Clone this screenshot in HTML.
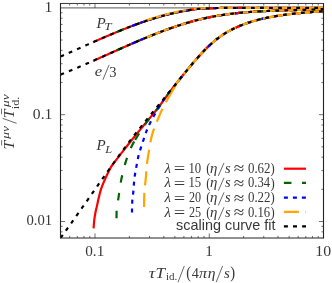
<!DOCTYPE html>
<html><head><meta charset="utf-8">
<style>
html,body{margin:0;padding:0;background:#fff;}
body{width:332px;height:283px;overflow:hidden;}
svg{display:block;}
text{fill:#383838;}
</style></head><body>
<svg width="332" height="283" viewBox="0 0 332 283">
<rect x="0" y="0" width="332" height="283" fill="#fff"/>
<path d="M60.5 7.86 H323.5" stroke="#777" stroke-width="1.15"/>
<clipPath id="cp"><rect x="60.5" y="3.47" width="263.0" height="234.53"/></clipPath>
<g clip-path="url(#cp)" stroke-linecap="butt" stroke-linejoin="round">
<path d="M93.10 42.17 L94.10 41.73 L95.10 41.30 L96.10 40.86 L97.10 40.42 L98.10 39.98 L99.10 39.55 L100.10 39.11 L101.10 38.67 L102.10 38.24 L103.10 37.81 L104.10 37.37 L105.10 36.94 L106.10 36.51 L107.10 36.08 L108.10 35.66 L109.10 35.23 L110.10 34.81 L111.10 34.39 L112.10 33.97 L113.10 33.56 L114.10 33.14 L115.10 32.72 L116.10 32.31 L117.10 31.90 L118.10 31.49 L119.10 31.08 L120.10 30.67 L121.10 30.27 L122.10 29.86 L123.10 29.46 L124.10 29.06 L125.10 28.66 L126.10 28.27 L127.10 27.87 L128.10 27.48 L129.10 27.10 L130.10 26.71 L131.10 26.33 L132.10 25.95 L133.10 25.57 L134.10 25.19 L135.10 24.82 L136.10 24.45 L137.10 24.08 L138.10 23.72 L139.10 23.36 L140.10 23.00 L141.10 22.65 L142.10 22.30 L143.10 21.95 L144.10 21.61 L145.10 21.27 L146.10 20.93 L147.10 20.60 L148.10 20.26 L149.10 19.93 L150.10 19.60 L151.10 19.28 L152.10 18.96 L153.10 18.65 L154.10 18.33 L155.10 18.03 L156.10 17.73 L157.10 17.43 L158.10 17.13 L159.10 16.84 L160.10 16.56 L161.10 16.27 L162.10 16.00 L163.10 15.72 L164.10 15.45 L165.10 15.18 L166.10 14.92 L167.10 14.66 L168.10 14.40 L169.10 14.15 L170.10 13.90 L171.10 13.66 L172.10 13.42 L173.10 13.19 L174.10 12.96 L175.10 12.74 L176.10 12.53 L177.10 12.32 L178.10 12.11 L179.10 11.91 L180.10 11.71 L181.10 11.51 L182.10 11.31 L183.10 11.13 L184.10 10.94 L185.10 10.77 L186.10 10.60 L187.10 10.43 L188.10 10.28 L189.10 10.12 L190.10 9.96 L191.10 9.80 L192.10 9.65 L193.10 9.50 L194.10 9.36 L195.10 9.23 L196.10 9.10 L197.10 8.99 L198.10 8.89 L199.10 8.80 L200.10 8.73 L201.10 8.66 L202.10 8.61 L203.10 8.55 L204.10 8.50 L205.10 8.46 L206.10 8.41 L207.10 8.37 L208.10 8.33 L209.10 8.30 L210.10 8.26 L211.10 8.22 L212.10 8.18 L213.10 8.14 L214.10 8.11 L215.10 8.08 L216.10 8.05 L217.10 8.02 L218.10 8.00 L219.10 7.98 L220.10 7.96 L221.10 7.95 L222.10 7.94 L223.10 7.92 L224.10 7.91 L225.10 7.90 L226.10 7.88 L227.10 7.87 L228.10 7.85 L229.10 7.84 L230.10 7.82 L231.10 7.81 L232.10 7.80 L233.10 7.80 L234.10 7.80 L235.10 7.80 L236.10 7.80 L237.10 7.80 L238.10 7.80 L239.10 7.80 L240.10 7.80 L241.10 7.80 L242.10 7.80 L243.10 7.80 L244.10 7.80 L245.10 7.80 L246.10 7.80 L247.10 7.80 L248.10 7.80 L249.10 7.80 L250.10 7.80 L251.10 7.80 L252.10 7.80 L253.10 7.80 L254.10 7.80 L255.10 7.80 L256.10 7.80 L257.10 7.80 L258.10 7.80 L259.10 7.80 L260.10 7.80 L261.10 7.80 L262.10 7.80 L263.10 7.80 L264.10 7.80 L265.10 7.80 L266.10 7.81 L267.10 7.81 L268.10 7.82 L269.10 7.82 L270.10 7.83 L271.10 7.83 L272.10 7.84 L273.10 7.84 L274.10 7.85 L275.10 7.85 L276.10 7.85 L277.10 7.86 L278.10 7.86 L279.10 7.87 L280.10 7.87 L281.10 7.88 L282.10 7.88 L283.10 7.88 L284.10 7.89 L285.10 7.89 L286.10 7.89 L287.10 7.90 L288.10 7.90 L289.10 7.90 L290.10 7.90 L291.10 7.90 L292.10 7.90 L293.10 7.90 L294.10 7.90 L295.10 7.90 L296.10 7.90 L297.10 7.90 L298.10 7.90 L299.10 7.90 L300.10 7.90 L301.10 7.90 L302.10 7.90 L303.10 7.90 L304.10 7.90 L305.10 7.90 L306.10 7.90 L307.10 7.90 L308.10 7.90 L309.10 7.90 L310.10 7.90 L311.10 7.90 L312.10 7.90 L313.10 7.90 L314.10 7.90 L315.10 7.90 L316.10 7.90 L317.10 7.90 L318.10 7.90 L319.10 7.90 L320.10 7.90 L321.10 7.90 L322.10 7.90 L323.10 7.90 L323.50 7.90" stroke="#ff0000" stroke-width="2.20" fill="none"/>
<path d="M93.10 60.89 L94.10 60.44 L95.10 60.00 L96.10 59.56 L97.10 59.11 L98.10 58.67 L99.10 58.22 L100.10 57.78 L101.10 57.33 L102.10 56.89 L103.10 56.44 L104.10 55.99 L105.10 55.55 L106.10 55.10 L107.10 54.65 L108.10 54.20 L109.10 53.76 L110.10 53.31 L111.10 52.86 L112.10 52.42 L113.10 51.97 L114.10 51.52 L115.10 51.08 L116.10 50.63 L117.10 50.19 L118.10 49.74 L119.10 49.30 L120.10 48.85 L121.10 48.41 L122.10 47.97 L123.10 47.53 L124.10 47.09 L125.10 46.65 L126.10 46.21 L127.10 45.77 L128.10 45.33 L129.10 44.89 L130.10 44.46 L131.10 44.02 L132.10 43.59 L133.10 43.16 L134.10 42.73 L135.10 42.30 L136.10 41.87 L137.10 41.44 L138.10 41.02 L139.10 40.59 L140.10 40.17 L141.10 39.75 L142.10 39.33 L143.10 38.91 L144.10 38.49 L145.10 38.08 L146.10 37.67 L147.10 37.25 L148.10 36.85 L149.10 36.44 L150.10 36.03 L151.10 35.63 L152.10 35.23 L153.10 34.83 L154.10 34.43 L155.10 34.04 L156.10 33.65 L157.10 33.26 L158.10 32.87 L159.10 32.48 L160.10 32.10 L161.10 31.72 L162.10 31.34 L163.10 30.97 L164.10 30.59 L165.10 30.22 L166.10 29.86 L167.10 29.49 L168.10 29.13 L169.10 28.77 L170.10 28.41 L171.10 28.06 L172.10 27.71 L173.10 27.37 L174.10 27.02 L175.10 26.68 L176.10 26.34 L177.10 26.01 L178.10 25.68 L179.10 25.35 L180.10 25.03 L181.10 24.71 L182.10 24.39 L183.10 24.08 L184.10 23.77 L185.10 23.46 L186.10 23.16 L187.10 22.86 L188.10 22.57 L189.10 22.28 L190.10 21.99 L191.10 21.71 L192.10 21.43 L193.10 21.15 L194.10 20.88 L195.10 20.62 L196.10 20.35 L197.10 20.10 L198.10 19.84 L199.10 19.59 L200.10 19.35 L201.10 19.11 L202.10 18.87 L203.10 18.64 L204.10 18.42 L205.10 18.19 L206.10 17.98 L207.10 17.76 L208.10 17.55 L209.10 17.35 L210.10 17.15 L211.10 16.95 L212.10 16.75 L213.10 16.57 L214.10 16.38 L215.10 16.20 L216.10 16.02 L217.10 15.85 L218.10 15.68 L219.10 15.51 L220.10 15.35 L221.10 15.19 L222.10 15.04 L223.10 14.88 L224.10 14.74 L225.10 14.59 L226.10 14.45 L227.10 14.31 L228.10 14.18 L229.10 14.05 L230.10 13.92 L231.10 13.80 L232.10 13.67 L233.10 13.56 L234.10 13.44 L235.10 13.33 L236.10 13.22 L237.10 13.11 L238.10 13.01 L239.10 12.91 L240.10 12.81 L241.10 12.71 L242.10 12.62 L243.10 12.53 L244.10 12.44 L245.10 12.35 L246.10 12.27 L247.10 12.19 L248.10 12.11 L249.10 12.04 L250.10 11.96 L251.10 11.89 L252.10 11.82 L253.10 11.75 L254.10 11.69 L255.10 11.62 L256.10 11.56 L257.10 11.50 L258.10 11.44 L259.10 11.38 L260.10 11.33 L261.10 11.28 L262.10 11.22 L263.10 11.17 L264.10 11.13 L265.10 11.08 L266.10 11.03 L267.10 10.99 L268.10 10.94 L269.10 10.90 L270.10 10.86 L271.10 10.82 L272.10 10.78 L273.10 10.75 L274.10 10.71 L275.10 10.67 L276.10 10.64 L277.10 10.61 L278.10 10.57 L279.10 10.54 L280.10 10.51 L281.10 10.48 L282.10 10.45 L283.10 10.42 L284.10 10.39 L285.10 10.36 L286.10 10.33 L287.10 10.30 L288.10 10.27 L289.10 10.25 L290.10 10.22 L291.10 10.19 L292.10 10.16 L293.10 10.13 L294.10 10.11 L295.10 10.08 L296.10 10.05 L297.10 10.02 L298.10 10.00 L299.10 9.97 L300.10 9.94 L301.10 9.91 L302.10 9.88 L303.10 9.85 L304.10 9.82 L305.10 9.79 L306.10 9.76 L307.10 9.72 L308.10 9.69 L309.10 9.66 L310.10 9.62 L311.10 9.59 L312.10 9.55 L313.10 9.51 L314.10 9.47 L315.10 9.43 L316.10 9.39 L317.10 9.35 L318.10 9.30 L319.10 9.26 L320.10 9.21 L321.10 9.17 L322.10 9.12 L323.10 9.07 L323.50 9.05" stroke="#ff0000" stroke-width="2.20" fill="none"/>
<path d="M93.60 228.40 L93.65 227.40 L93.71 226.40 L93.79 225.40 L93.87 224.40 L93.95 223.41 L94.05 222.41 L94.15 221.42 L94.25 220.43 L94.36 219.43 L94.49 218.44 L94.63 217.45 L94.78 216.46 L94.94 215.47 L95.11 214.49 L95.28 213.50 L95.46 212.52 L95.65 211.54 L95.86 210.56 L96.08 209.59 L96.32 208.61 L96.56 207.64 L96.78 206.67 L97.00 205.69 L97.22 204.71 L97.43 203.74 L97.64 202.76 L97.85 201.78 L98.06 200.80 L98.28 199.83 L98.50 198.85 L98.73 197.88 L98.96 196.91 L99.20 195.93 L99.44 194.96 L99.68 193.99 L99.93 193.02 L100.19 192.05 L100.46 191.09 L100.74 190.13 L101.04 189.18 L101.35 188.24 L101.68 187.30 L102.03 186.36 L102.39 185.43 L102.77 184.50 L103.15 183.57 L103.54 182.65 L103.94 181.73 L104.35 180.81 L104.75 179.89 L105.16 178.98 L105.57 178.07 L105.98 177.16 L106.39 176.25 L106.81 175.34 L107.24 174.44 L107.67 173.54 L108.11 172.64 L108.55 171.74 L109.00 170.85 L109.45 169.95 L109.91 169.06 L110.38 168.18 L110.85 167.29 L111.20 166.63 L112.20 165.27 L113.20 163.93 L114.20 162.59 L115.20 161.26 L116.20 159.95 L117.20 158.64 L118.20 157.33 L119.20 156.03 L120.20 154.73 L121.20 153.43 L122.20 152.14 L123.20 150.86 L124.20 149.58 L125.20 148.31 L126.20 147.04 L127.20 145.78 L128.20 144.52 L129.20 143.26 L130.20 142.00 L131.20 140.74 L132.20 139.49 L133.20 138.24 L134.20 137.00 L135.20 135.76 L136.20 134.52 L137.20 133.29 L138.20 132.07 L139.20 130.84 L140.20 129.62 L141.20 128.40 L142.20 127.19 L143.20 125.99 L144.20 124.79 L145.20 123.59 L146.20 122.39 L147.20 121.18 L148.20 119.98 L149.20 118.77 L150.20 117.55 L151.20 116.33 L152.20 115.11 L153.20 113.90 L154.20 112.68 L155.20 111.47 L156.20 110.26 L157.20 109.00 L158.20 107.69 L159.20 106.35 L160.20 104.98 L161.20 103.62 L162.20 102.27 L163.20 100.91 L164.20 99.53 L165.20 98.15 L166.20 96.77 L167.20 95.41 L168.20 94.07 L169.20 92.73 L170.20 91.40 L171.20 90.08 L172.20 88.76 L173.20 87.46 L174.20 86.17 L175.20 84.89 L176.20 83.62 L177.20 82.35 L178.20 81.10 L179.20 79.85 L180.20 78.61 L181.20 77.37 L182.20 76.13 L183.20 74.89 L184.20 73.65 L185.20 72.42 L186.20 71.20 L187.20 69.98 L188.20 68.77 L189.20 67.56 L190.20 66.36 L191.20 65.17 L192.20 63.98 L193.20 62.81 L194.20 61.64 L195.20 60.49 L196.20 59.34 L197.20 58.21 L198.20 57.09 L199.20 55.98 L200.20 54.88 L201.20 53.80 L202.20 52.73 L203.20 51.68 L204.20 50.64 L205.20 49.62 L206.20 48.61 L207.20 47.63 L208.20 46.65 L209.20 45.70 L210.20 44.77 L211.20 43.85 L212.20 42.96 L213.20 42.09 L214.20 41.23 L215.20 40.40 L216.20 39.59 L217.20 38.81 L218.20 38.04 L219.20 37.30 L220.20 36.58 L221.20 35.88 L222.20 35.19 L223.20 34.53 L224.20 33.89 L225.20 33.27 L226.20 32.66 L227.20 32.07 L228.20 31.50 L229.20 30.94 L230.20 30.40 L231.20 29.87 L232.20 29.36 L233.20 28.86 L234.20 28.38 L235.20 27.91 L236.20 27.45 L237.20 27.00 L238.20 26.56 L239.20 26.13 L240.20 25.72 L241.20 25.31 L242.20 24.92 L243.20 24.53 L244.20 24.16 L245.20 23.79 L246.20 23.43 L247.20 23.09 L248.20 22.75 L249.20 22.42 L250.20 22.10 L251.20 21.78 L252.20 21.48 L253.20 21.18 L254.20 20.89 L255.20 20.61 L256.20 20.33 L257.20 20.06 L258.20 19.80 L259.20 19.55 L260.20 19.30 L261.20 19.05 L262.20 18.82 L263.20 18.59 L264.20 18.36 L265.20 18.14 L266.20 17.93 L267.20 17.72 L268.20 17.51 L269.20 17.31 L270.20 17.12 L271.20 16.93 L272.20 16.75 L273.20 16.57 L274.20 16.39 L275.20 16.22 L276.20 16.05 L277.20 15.89 L278.20 15.73 L279.20 15.58 L280.20 15.42 L281.20 15.28 L282.20 15.13 L283.20 14.99 L284.20 14.86 L285.20 14.73 L286.20 14.60 L287.20 14.47 L288.20 14.35 L289.20 14.23 L290.20 14.11 L291.20 13.99 L292.20 13.88 L293.20 13.77 L294.20 13.66 L295.20 13.56 L296.20 13.45 L297.20 13.35 L298.20 13.25 L299.20 13.16 L300.20 13.06 L301.20 12.97 L302.20 12.87 L303.20 12.78 L304.20 12.69 L305.20 12.61 L306.20 12.52 L307.20 12.43 L308.20 12.35 L309.20 12.26 L310.20 12.18 L311.20 12.10 L312.20 12.01 L313.20 11.93 L314.20 11.85 L315.20 11.77 L316.20 11.69 L317.20 11.60 L318.20 11.52 L319.20 11.44 L320.20 11.36 L321.20 11.27 L322.20 11.19 L323.20 11.11 L323.50 11.08" stroke="#ff0000" stroke-width="2.20" fill="none"/>
<path d="M116.50 32.15 L117.50 31.73 L118.50 31.32 L119.50 30.92 L120.50 30.51 L121.50 30.10 L122.50 29.70 L123.50 29.30 L124.50 28.90 L125.50 28.50 L126.50 28.11 L127.50 27.72 L128.50 27.33 L129.50 26.94 L130.50 26.56 L131.50 26.18 L132.50 25.80 L133.50 25.42 L134.50 25.05 L135.50 24.67 L136.50 24.30 L137.50 23.94 L138.50 23.58 L139.50 23.22 L140.50 22.86 L141.50 22.51 L142.50 22.16 L143.50 21.82 L144.50 21.47 L145.50 21.13 L146.50 20.80 L147.50 20.46 L148.50 20.13 L149.50 19.80 L150.50 19.47 L151.50 19.15 L152.50 18.83 L153.50 18.52 L154.50 18.21 L155.50 17.91 L156.50 17.61 L157.50 17.31 L158.50 17.02 L159.50 16.73 L160.50 16.44 L161.50 16.16 L162.50 15.88 L163.50 15.61 L164.50 15.34 L165.50 15.07 L166.50 14.81 L167.50 14.55 L168.50 14.30 L169.50 14.05 L170.50 13.80 L171.50 13.56 L172.50 13.32 L173.50 13.10 L174.50 12.87 L175.50 12.66 L176.50 12.45 L177.50 12.24 L178.50 12.03 L179.50 11.83 L180.50 11.63 L181.50 11.43 L182.50 11.24 L183.50 11.05 L184.50 10.87 L185.50 10.70 L186.50 10.53 L187.50 10.37 L188.50 10.21 L189.50 10.05 L190.50 9.90 L191.50 9.74 L192.50 9.59 L193.50 9.44 L194.50 9.30 L195.50 9.17 L196.50 9.05 L197.50 8.95 L198.50 8.85 L199.50 8.77 L200.50 8.70 L201.50 8.64 L202.50 8.58 L203.50 8.53 L204.50 8.48 L205.50 8.44 L206.50 8.40 L207.50 8.36 L208.50 8.32 L209.50 8.28 L210.50 8.24 L211.50 8.20 L212.50 8.17 L213.50 8.13 L214.50 8.10 L215.50 8.06 L216.50 8.03 L217.50 8.01 L218.50 7.99 L219.50 7.97 L220.50 7.96 L221.50 7.94 L222.50 7.93 L223.50 7.92 L224.50 7.91 L225.50 7.89 L226.50 7.88 L227.50 7.86 L228.50 7.84 L229.50 7.83 L230.50 7.82 L231.50 7.81 L232.50 7.80 L233.50 7.80 L234.50 7.80 L235.50 7.80 L236.50 7.80 L237.50 7.80 L238.50 7.80 L239.50 7.80 L240.50 7.80 L241.50 7.80 L242.50 7.80 L243.50 7.80 L244.50 7.80 L245.50 7.80 L246.50 7.80 L247.50 7.80 L248.50 7.80 L249.50 7.80 L250.50 7.80 L251.50 7.80 L252.50 7.80 L253.50 7.80 L254.50 7.80 L255.50 7.80 L256.50 7.80 L257.50 7.80 L258.50 7.80 L259.50 7.80 L260.50 7.80 L261.50 7.80 L262.50 7.80 L263.50 7.80 L264.50 7.80 L265.50 7.81 L266.50 7.81 L267.50 7.81 L268.50 7.82 L269.50 7.82 L270.50 7.83 L271.50 7.83 L272.50 7.84 L273.50 7.84 L274.50 7.85 L275.50 7.85 L276.50 7.86 L277.50 7.86 L278.50 7.86 L279.50 7.87 L280.50 7.87 L281.50 7.88 L282.50 7.88 L283.50 7.89 L284.50 7.89 L285.50 7.89 L286.50 7.90 L287.50 7.90 L288.50 7.90 L289.50 7.90 L290.50 7.90 L291.50 7.90 L292.50 7.90 L293.50 7.90 L294.50 7.90 L295.50 7.90 L296.50 7.90 L297.50 7.90 L298.50 7.90 L299.50 7.90 L300.50 7.90 L301.50 7.90 L302.50 7.90 L303.50 7.90 L304.50 7.90 L305.50 7.90 L306.50 7.90 L307.50 7.90 L308.50 7.90 L309.50 7.90 L310.50 7.90 L311.50 7.90 L312.50 7.90 L313.50 7.90 L314.50 7.90 L315.50 7.90 L316.50 7.90 L317.50 7.90 L318.50 7.90 L319.50 7.90 L320.50 7.90 L321.50 7.90 L322.50 7.90 L323.50 7.90" stroke="#006400" stroke-width="2.20" fill="none" stroke-dasharray="7.5 10.5"/>
<path d="M116.50 50.45 L117.50 50.01 L118.50 49.57 L119.50 49.12 L120.50 48.68 L121.50 48.23 L122.50 47.79 L123.50 47.35 L124.50 46.91 L125.50 46.47 L126.50 46.03 L127.50 45.59 L128.50 45.16 L129.50 44.72 L130.50 44.28 L131.50 43.85 L132.50 43.42 L133.50 42.99 L134.50 42.55 L135.50 42.13 L136.50 41.70 L137.50 41.27 L138.50 40.85 L139.50 40.42 L140.50 40.00 L141.50 39.58 L142.50 39.16 L143.50 38.74 L144.50 38.33 L145.50 37.91 L146.50 37.50 L147.50 37.09 L148.50 36.68 L149.50 36.28 L150.50 35.87 L151.50 35.47 L152.50 35.07 L153.50 34.67 L154.50 34.27 L155.50 33.88 L156.50 33.49 L157.50 33.10 L158.50 32.71 L159.50 32.33 L160.50 31.95 L161.50 31.57 L162.50 31.19 L163.50 30.82 L164.50 30.44 L165.50 30.08 L166.50 29.71 L167.50 29.35 L168.50 28.99 L169.50 28.63 L170.50 28.27 L171.50 27.92 L172.50 27.57 L173.50 27.23 L174.50 26.88 L175.50 26.55 L176.50 26.21 L177.50 25.88 L178.50 25.55 L179.50 25.22 L180.50 24.90 L181.50 24.58 L182.50 24.26 L183.50 23.95 L184.50 23.64 L185.50 23.34 L186.50 23.04 L187.50 22.74 L188.50 22.45 L189.50 22.16 L190.50 21.87 L191.50 21.59 L192.50 21.32 L193.50 21.04 L194.50 20.77 L195.50 20.51 L196.50 20.25 L197.50 19.99 L198.50 19.74 L199.50 19.50 L200.50 19.25 L201.50 19.01 L202.50 18.78 L203.50 18.55 L204.50 18.33 L205.50 18.11 L206.50 17.89 L207.50 17.68 L208.50 17.47 L209.50 17.27 L210.50 17.07 L211.50 16.87 L212.50 16.68 L213.50 16.49 L214.50 16.31 L215.50 16.13 L216.50 15.95 L217.50 15.78 L218.50 15.61 L219.50 15.45 L220.50 15.29 L221.50 15.13 L222.50 14.98 L223.50 14.83 L224.50 14.68 L225.50 14.54 L226.50 14.40 L227.50 14.26 L228.50 14.13 L229.50 14.00 L230.50 13.87 L231.50 13.75 L232.50 13.63 L233.50 13.51 L234.50 13.39 L235.50 13.28 L236.50 13.17 L237.50 13.07 L238.50 12.97 L239.50 12.87 L240.50 12.77 L241.50 12.67 L242.50 12.58 L243.50 12.49 L244.50 12.41 L245.50 12.32 L246.50 12.24 L247.50 12.16 L248.50 12.08 L249.50 12.01 L250.50 11.93 L251.50 11.86 L252.50 11.79 L253.50 11.72 L254.50 11.66 L255.50 11.60 L256.50 11.54 L257.50 11.48 L258.50 11.42 L259.50 11.36 L260.50 11.31 L261.50 11.26 L262.50 11.20 L263.50 11.15 L264.50 11.11 L265.50 11.06 L266.50 11.01 L267.50 10.97 L268.50 10.93 L269.50 10.89 L270.50 10.85 L271.50 10.81 L272.50 10.77 L273.50 10.73 L274.50 10.70 L275.50 10.66 L276.50 10.63 L277.50 10.59 L278.50 10.56 L279.50 10.53 L280.50 10.50 L281.50 10.47 L282.50 10.43 L283.50 10.41 L284.50 10.38 L285.50 10.35 L286.50 10.32 L287.50 10.29 L288.50 10.26 L289.50 10.23 L290.50 10.21 L291.50 10.18 L292.50 10.15 L293.50 10.12 L294.50 10.10 L295.50 10.07 L296.50 10.04 L297.50 10.01 L298.50 9.98 L299.50 9.96 L300.50 9.93 L301.50 9.90 L302.50 9.87 L303.50 9.84 L304.50 9.81 L305.50 9.78 L306.50 9.74 L307.50 9.71 L308.50 9.68 L309.50 9.64 L310.50 9.61 L311.50 9.57 L312.50 9.53 L313.50 9.49 L314.50 9.46 L315.50 9.42 L316.50 9.37 L317.50 9.33 L318.50 9.29 L319.50 9.24 L320.50 9.19 L321.50 9.15 L322.50 9.10 L323.50 9.05" stroke="#006400" stroke-width="2.20" fill="none" stroke-dasharray="7.5 10.5"/>
<path d="M116.50 218.30 L116.50 217.30 L116.51 216.30 L116.53 215.30 L116.55 214.30 L116.57 213.30 L116.59 212.30 L116.62 211.30 L116.68 210.31 L116.76 209.31 L116.86 208.32 L116.97 207.33 L117.10 206.34 L117.25 205.35 L117.40 204.36 L117.56 203.37 L117.73 202.38 L117.89 201.39 L118.06 200.40 L118.23 199.41 L118.39 198.42 L118.54 197.43 L118.68 196.44 L118.82 195.45 L118.96 194.46 L119.10 193.47 L119.24 192.48 L119.38 191.48 L119.52 190.49 L119.67 189.50 L119.81 188.51 L119.96 187.52 L120.11 186.53 L120.26 185.54 L120.42 184.55 L120.58 183.57 L120.75 182.58 L120.92 181.60 L121.10 180.62 L121.28 179.64 L121.47 178.66 L121.66 177.68 L121.87 176.70 L122.08 175.72 L122.29 174.75 L122.52 173.77 L122.74 172.79 L122.98 171.82 L123.22 170.85 L123.47 169.88 L123.72 168.90 L123.98 167.94 L124.25 166.97 L124.52 166.00 L124.79 165.04 L125.07 164.08 L125.35 163.12 L125.64 162.17 L125.93 161.22 L126.23 160.27 L126.54 159.32 L126.85 158.37 L127.17 157.42 L127.50 156.47 L127.84 155.53 L128.19 154.59 L128.55 153.65 L128.91 152.71 L129.28 151.78 L129.66 150.85 L130.05 149.92 L130.44 149.01 L130.84 148.09 L131.25 147.18 L131.67 146.28 L132.10 145.38 L132.54 144.49 L133.01 143.61 L133.49 142.74 L133.99 141.87 L134.49 141.00 L135.01 140.14 L135.53 139.28 L136.05 138.42 L136.57 137.57 L137.09 136.71 L137.61 135.86 L138.14 135.01 L138.67 134.17 L139.21 133.32 L139.75 132.48 L140.30 131.64 L140.85 130.81 L141.40 129.97 L141.95 129.14 L142.50 128.30 L143.05 127.47 L143.60 126.63 L144.16 125.80 L144.72 124.97 L145.28 124.14 L145.84 123.32 L146.40 122.49 L146.97 121.67 L147.54 120.84 L147.80 120.46 L148.80 119.25 L149.80 118.04 L150.80 116.82 L151.80 115.60 L152.80 114.38 L153.80 113.17 L154.80 111.96 L155.80 110.74 L156.80 109.51 L157.80 108.22 L158.80 106.89 L159.80 105.53 L160.80 104.16 L161.80 102.81 L162.80 101.45 L163.80 100.08 L164.80 98.70 L165.80 97.32 L166.80 95.95 L167.80 94.60 L168.80 93.27 L169.80 91.94 L170.80 90.61 L171.80 89.29 L172.80 87.98 L173.80 86.69 L174.80 85.41 L175.80 84.13 L176.80 82.86 L177.80 81.60 L178.80 80.35 L179.80 79.11 L180.80 77.86 L181.80 76.62 L182.80 75.38 L183.80 74.15 L184.80 72.92 L185.80 71.69 L186.80 70.47 L187.80 69.25 L188.80 68.04 L189.80 66.84 L190.80 65.64 L191.80 64.45 L192.80 63.28 L193.80 62.11 L194.80 60.95 L195.80 59.80 L196.80 58.66 L197.80 57.53 L198.80 56.42 L199.80 55.32 L200.80 54.23 L201.80 53.16 L202.80 52.10 L203.80 51.05 L204.80 50.03 L205.80 49.01 L206.80 48.02 L207.80 47.04 L208.80 46.08 L209.80 45.14 L210.80 44.22 L211.80 43.31 L212.80 42.43 L213.80 41.57 L214.80 40.73 L215.80 39.91 L216.80 39.12 L217.80 38.34 L218.80 37.59 L219.80 36.86 L220.80 36.15 L221.80 35.47 L222.80 34.80 L223.80 34.15 L224.80 33.51 L225.80 32.90 L226.80 32.30 L227.80 31.72 L228.80 31.16 L229.80 30.61 L230.80 30.08 L231.80 29.56 L232.80 29.06 L233.80 28.57 L234.80 28.09 L235.80 27.63 L236.80 27.18 L237.80 26.73 L238.80 26.30 L239.80 25.88 L240.80 25.47 L241.80 25.08 L242.80 24.69 L243.80 24.31 L244.80 23.94 L245.80 23.58 L246.80 23.22 L247.80 22.88 L248.80 22.55 L249.80 22.22 L250.80 21.91 L251.80 21.60 L252.80 21.30 L253.80 21.00 L254.80 20.72 L255.80 20.44 L256.80 20.17 L257.80 19.91 L258.80 19.65 L259.80 19.40 L260.80 19.15 L261.80 18.91 L262.80 18.68 L263.80 18.45 L264.80 18.23 L265.80 18.01 L266.80 17.80 L267.80 17.59 L268.80 17.39 L269.80 17.20 L270.80 17.01 L271.80 16.82 L272.80 16.64 L273.80 16.46 L274.80 16.29 L275.80 16.12 L276.80 15.95 L277.80 15.79 L278.80 15.64 L279.80 15.48 L280.80 15.34 L281.80 15.19 L282.80 15.05 L283.80 14.91 L284.80 14.78 L285.80 14.65 L286.80 14.52 L287.80 14.39 L288.80 14.27 L289.80 14.15 L290.80 14.04 L291.80 13.92 L292.80 13.81 L293.80 13.70 L294.80 13.60 L295.80 13.49 L296.80 13.39 L297.80 13.29 L298.80 13.20 L299.80 13.10 L300.80 13.00 L301.80 12.91 L302.80 12.82 L303.80 12.73 L304.80 12.64 L305.80 12.55 L306.80 12.47 L307.80 12.38 L308.80 12.30 L309.80 12.21 L310.80 12.13 L311.80 12.05 L312.80 11.96 L313.80 11.88 L314.80 11.80 L315.80 11.72 L316.80 11.64 L317.80 11.55 L318.80 11.47 L319.80 11.39 L320.80 11.31 L321.80 11.22 L322.80 11.14 L323.50 11.08" stroke="#006400" stroke-width="2.20" fill="none" stroke-dasharray="7.5 10.5 7.5 10.5 7.5 10.5 7.5 10.5 7.5 1.8 7.5 10.5 7.5 10.5 7.5 10.5 7.5 10.5 7.5 10.5 7.5 10.5 7.5 10.5 7.5 10.5 7.5 10.5 7.5 10.5 7.5 10.5 7.5 10.5 7.5 10.5 7.5 10.5 7.5 10.5 7.5 10.5 7.5 10.5 7.5 10.5 7.5 10.5 7.5 10.5 7.5 10.5 7.5 10.5 7.5 10.5 7.5 10.5 7.5 10.5 7.5 10.5 7.5 10.5 7.5 10.5 7.5 10.5 7.5 10.5 7.5 10.5 7.5 10.5 7.5 10.5 7.5 10.5 7.5 10.5 7.5 10.5 7.5 10.5 7.5 10.5 7.5 10.5 7.5 10.5"/>
<path d="M132.00 25.99 L133.00 25.61 L134.00 25.23 L135.00 24.86 L136.00 24.49 L137.00 24.12 L138.00 23.76 L139.00 23.40 L140.00 23.04 L141.00 22.68 L142.00 22.33 L143.00 21.99 L144.00 21.65 L145.00 21.30 L146.00 20.97 L147.00 20.63 L148.00 20.30 L149.00 19.96 L150.00 19.64 L151.00 19.31 L152.00 18.99 L153.00 18.68 L154.00 18.37 L155.00 18.06 L156.00 17.76 L157.00 17.46 L158.00 17.16 L159.00 16.87 L160.00 16.59 L161.00 16.30 L162.00 16.02 L163.00 15.75 L164.00 15.47 L165.00 15.21 L166.00 14.94 L167.00 14.68 L168.00 14.42 L169.00 14.17 L170.00 13.92 L171.00 13.68 L172.00 13.44 L173.00 13.21 L174.00 12.98 L175.00 12.77 L176.00 12.55 L177.00 12.34 L178.00 12.13 L179.00 11.93 L180.00 11.73 L181.00 11.53 L182.00 11.33 L183.00 11.14 L184.00 10.96 L185.00 10.78 L186.00 10.61 L187.00 10.45 L188.00 10.29 L189.00 10.13 L190.00 9.98 L191.00 9.82 L192.00 9.66 L193.00 9.52 L194.00 9.37 L195.00 9.24 L196.00 9.11 L197.00 9.00 L198.00 8.90 L199.00 8.81 L200.00 8.74 L201.00 8.67 L202.00 8.61 L203.00 8.56 L204.00 8.51 L205.00 8.46 L206.00 8.42 L207.00 8.38 L208.00 8.34 L209.00 8.30 L210.00 8.26 L211.00 8.22 L212.00 8.19 L213.00 8.15 L214.00 8.11 L215.00 8.08 L216.00 8.05 L217.00 8.02 L218.00 8.00 L219.00 7.98 L220.00 7.97 L221.00 7.95 L222.00 7.94 L223.00 7.93 L224.00 7.91 L225.00 7.90 L226.00 7.89 L227.00 7.87 L228.00 7.85 L229.00 7.84 L230.00 7.82 L231.00 7.81 L232.00 7.80 L233.00 7.80 L234.00 7.80 L235.00 7.80 L236.00 7.80 L237.00 7.80 L238.00 7.80 L239.00 7.80 L240.00 7.80 L241.00 7.80 L242.00 7.80 L243.00 7.80 L244.00 7.80 L245.00 7.80 L246.00 7.80 L247.00 7.80 L248.00 7.80 L249.00 7.80 L250.00 7.80 L251.00 7.80 L252.00 7.80 L253.00 7.80 L254.00 7.80 L255.00 7.80 L256.00 7.80 L257.00 7.80 L258.00 7.80 L259.00 7.80 L260.00 7.80 L261.00 7.80 L262.00 7.80 L263.00 7.80 L264.00 7.80 L265.00 7.80 L266.00 7.81 L267.00 7.81 L268.00 7.82 L269.00 7.82 L270.00 7.83 L271.00 7.83 L272.00 7.84 L273.00 7.84 L274.00 7.85 L275.00 7.85 L276.00 7.85 L277.00 7.86 L278.00 7.86 L279.00 7.87 L280.00 7.87 L281.00 7.88 L282.00 7.88 L283.00 7.88 L284.00 7.89 L285.00 7.89 L286.00 7.89 L287.00 7.90 L288.00 7.90 L289.00 7.90 L290.00 7.90 L291.00 7.90 L292.00 7.90 L293.00 7.90 L294.00 7.90 L295.00 7.90 L296.00 7.90 L297.00 7.90 L298.00 7.90 L299.00 7.90 L300.00 7.90 L301.00 7.90 L302.00 7.90 L303.00 7.90 L304.00 7.90 L305.00 7.90 L306.00 7.90 L307.00 7.90 L308.00 7.90 L309.00 7.90 L310.00 7.90 L311.00 7.90 L312.00 7.90 L313.00 7.90 L314.00 7.90 L315.00 7.90 L316.00 7.90 L317.00 7.90 L318.00 7.90 L319.00 7.90 L320.00 7.90 L321.00 7.90 L322.00 7.90 L323.00 7.90 L323.50 7.90" stroke="#0000ff" stroke-width="2.20" fill="none" stroke-dasharray="4 5"/>
<path d="M132.00 43.63 L133.00 43.20 L134.00 42.77 L135.00 42.34 L136.00 41.91 L137.00 41.48 L138.00 41.06 L139.00 40.63 L140.00 40.21 L141.00 39.79 L142.00 39.37 L143.00 38.95 L144.00 38.53 L145.00 38.12 L146.00 37.71 L147.00 37.30 L148.00 36.89 L149.00 36.48 L150.00 36.07 L151.00 35.67 L152.00 35.27 L153.00 34.87 L154.00 34.47 L155.00 34.08 L156.00 33.68 L157.00 33.29 L158.00 32.91 L159.00 32.52 L160.00 32.14 L161.00 31.76 L162.00 31.38 L163.00 31.00 L164.00 30.63 L165.00 30.26 L166.00 29.89 L167.00 29.53 L168.00 29.17 L169.00 28.81 L170.00 28.45 L171.00 28.10 L172.00 27.75 L173.00 27.40 L174.00 27.06 L175.00 26.71 L176.00 26.38 L177.00 26.04 L178.00 25.71 L179.00 25.38 L180.00 25.06 L181.00 24.74 L182.00 24.42 L183.00 24.11 L184.00 23.80 L185.00 23.49 L186.00 23.19 L187.00 22.89 L188.00 22.60 L189.00 22.30 L190.00 22.02 L191.00 21.73 L192.00 21.45 L193.00 21.18 L194.00 20.91 L195.00 20.64 L196.00 20.38 L197.00 20.12 L198.00 19.87 L199.00 19.62 L200.00 19.37 L201.00 19.13 L202.00 18.90 L203.00 18.67 L204.00 18.44 L205.00 18.22 L206.00 18.00 L207.00 17.78 L208.00 17.57 L209.00 17.37 L210.00 17.17 L211.00 16.97 L212.00 16.77 L213.00 16.58 L214.00 16.40 L215.00 16.22 L216.00 16.04 L217.00 15.87 L218.00 15.69 L219.00 15.53 L220.00 15.37 L221.00 15.21 L222.00 15.05 L223.00 14.90 L224.00 14.75 L225.00 14.61 L226.00 14.47 L227.00 14.33 L228.00 14.19 L229.00 14.06 L230.00 13.93 L231.00 13.81 L232.00 13.69 L233.00 13.57 L234.00 13.45 L235.00 13.34 L236.00 13.23 L237.00 13.12 L238.00 13.02 L239.00 12.92 L240.00 12.82 L241.00 12.72 L242.00 12.63 L243.00 12.54 L244.00 12.45 L245.00 12.36 L246.00 12.28 L247.00 12.20 L248.00 12.12 L249.00 12.04 L250.00 11.97 L251.00 11.90 L252.00 11.83 L253.00 11.76 L254.00 11.69 L255.00 11.63 L256.00 11.57 L257.00 11.51 L258.00 11.45 L259.00 11.39 L260.00 11.33 L261.00 11.28 L262.00 11.23 L263.00 11.18 L264.00 11.13 L265.00 11.08 L266.00 11.04 L267.00 10.99 L268.00 10.95 L269.00 10.91 L270.00 10.87 L271.00 10.83 L272.00 10.79 L273.00 10.75 L274.00 10.71 L275.00 10.68 L276.00 10.64 L277.00 10.61 L278.00 10.58 L279.00 10.54 L280.00 10.51 L281.00 10.48 L282.00 10.45 L283.00 10.42 L284.00 10.39 L285.00 10.36 L286.00 10.33 L287.00 10.30 L288.00 10.28 L289.00 10.25 L290.00 10.22 L291.00 10.19 L292.00 10.17 L293.00 10.14 L294.00 10.11 L295.00 10.08 L296.00 10.05 L297.00 10.03 L298.00 10.00 L299.00 9.97 L300.00 9.94 L301.00 9.91 L302.00 9.88 L303.00 9.85 L304.00 9.82 L305.00 9.79 L306.00 9.76 L307.00 9.73 L308.00 9.69 L309.00 9.66 L310.00 9.62 L311.00 9.59 L312.00 9.55 L313.00 9.51 L314.00 9.48 L315.00 9.44 L316.00 9.39 L317.00 9.35 L318.00 9.31 L319.00 9.26 L320.00 9.22 L321.00 9.17 L322.00 9.12 L323.00 9.07 L323.50 9.05" stroke="#0000ff" stroke-width="2.20" fill="none" stroke-dasharray="4 5"/>
<path d="M132.00 212.60 L132.00 211.60 L132.01 210.60 L132.02 209.59 L132.03 208.59 L132.05 207.59 L132.07 206.59 L132.09 205.59 L132.12 204.60 L132.15 203.60 L132.18 202.60 L132.22 201.60 L132.28 200.61 L132.37 199.61 L132.49 198.62 L132.62 197.63 L132.75 196.63 L132.89 195.64 L133.02 194.65 L133.13 193.65 L133.23 192.66 L133.32 191.66 L133.39 190.67 L133.47 189.67 L133.54 188.67 L133.61 187.67 L133.68 186.68 L133.76 185.68 L133.84 184.68 L133.93 183.69 L134.02 182.69 L134.12 181.69 L134.22 180.70 L134.33 179.70 L134.44 178.71 L134.55 177.72 L134.67 176.72 L134.80 175.73 L134.94 174.74 L135.08 173.75 L135.24 172.77 L135.41 171.78 L135.59 170.80 L135.77 169.82 L135.96 168.83 L136.15 167.85 L136.34 166.87 L136.53 165.88 L136.71 164.90 L136.89 163.92 L137.07 162.93 L137.24 161.94 L137.43 160.96 L137.61 159.98 L137.81 159.00 L138.02 158.02 L138.24 157.05 L138.47 156.08 L138.71 155.11 L138.96 154.15 L139.23 153.18 L139.50 152.22 L139.78 151.26 L140.07 150.31 L140.37 149.35 L140.67 148.39 L140.98 147.44 L141.29 146.49 L141.60 145.53 L141.91 144.58 L142.23 143.63 L142.55 142.68 L142.86 141.73 L143.18 140.78 L143.49 139.83 L143.80 138.88 L144.11 137.93 L144.43 136.98 L144.74 136.03 L145.06 135.08 L145.39 134.13 L145.72 133.19 L146.06 132.25 L146.41 131.31 L146.77 130.38 L147.14 129.46 L147.52 128.53 L147.92 127.62 L148.32 126.70 L148.74 125.79 L149.17 124.89 L149.60 123.98 L150.04 123.08 L150.49 122.19 L150.94 121.29 L151.39 120.40 L151.86 119.52 L152.33 118.64 L152.81 117.76 L153.30 116.89 L153.80 116.02 L154.30 115.16 L154.81 114.29 L155.32 113.43 L155.82 112.57 L156.33 111.71 L156.84 110.85 L157.35 109.99 L157.86 109.13 L158.38 108.27 L158.90 107.42 L159.42 106.57 L159.95 105.72 L160.48 104.87 L161.01 104.02 L161.54 103.17 L162.08 102.32 L162.61 101.48 L163.15 100.63 L163.69 99.79 L164.24 98.95 L164.80 98.12 L165.36 97.30 L165.93 96.48 L166.52 95.67 L167.12 94.88 L167.72 94.09 L168.34 93.30 L168.97 92.53 L169.61 91.76 L170.26 90.99 L170.92 90.24 L171.59 89.48 L172.00 89.02 L173.00 87.72 L174.00 86.43 L175.00 85.15 L176.00 83.87 L177.00 82.60 L178.00 81.35 L179.00 80.10 L180.00 78.86 L181.00 77.61 L182.00 76.37 L183.00 75.14 L184.00 73.90 L185.00 72.67 L186.00 71.44 L187.00 70.22 L188.00 69.01 L189.00 67.80 L190.00 66.60 L191.00 65.40 L192.00 64.22 L193.00 63.04 L194.00 61.87 L195.00 60.72 L196.00 59.57 L197.00 58.43 L198.00 57.31 L199.00 56.20 L200.00 55.10 L201.00 54.01 L202.00 52.94 L203.00 51.89 L204.00 50.85 L205.00 49.82 L206.00 48.81 L207.00 47.82 L208.00 46.85 L209.00 45.89 L210.00 44.95 L211.00 44.04 L212.00 43.14 L213.00 42.26 L214.00 41.40 L215.00 40.57 L216.00 39.75 L217.00 38.96 L218.00 38.19 L219.00 37.45 L220.00 36.72 L221.00 36.01 L222.00 35.33 L223.00 34.66 L224.00 34.02 L225.00 33.39 L226.00 32.78 L227.00 32.19 L228.00 31.61 L229.00 31.05 L230.00 30.51 L231.00 29.98 L232.00 29.46 L233.00 28.96 L234.00 28.47 L235.00 28.00 L236.00 27.54 L237.00 27.09 L238.00 26.65 L239.00 26.22 L240.00 25.80 L241.00 25.39 L242.00 25.00 L243.00 24.61 L244.00 24.23 L245.00 23.86 L246.00 23.51 L247.00 23.16 L248.00 22.81 L249.00 22.48 L250.00 22.16 L251.00 21.84 L252.00 21.54 L253.00 21.24 L254.00 20.95 L255.00 20.66 L256.00 20.39 L257.00 20.12 L258.00 19.85 L259.00 19.60 L260.00 19.35 L261.00 19.10 L262.00 18.86 L263.00 18.63 L264.00 18.41 L265.00 18.18 L266.00 17.97 L267.00 17.76 L268.00 17.55 L269.00 17.35 L270.00 17.16 L271.00 16.97 L272.00 16.78 L273.00 16.60 L274.00 16.42 L275.00 16.25 L276.00 16.08 L277.00 15.92 L278.00 15.76 L279.00 15.61 L280.00 15.45 L281.00 15.31 L282.00 15.16 L283.00 15.02 L284.00 14.89 L285.00 14.75 L286.00 14.62 L287.00 14.49 L288.00 14.37 L289.00 14.25 L290.00 14.13 L291.00 14.02 L292.00 13.90 L293.00 13.79 L294.00 13.68 L295.00 13.58 L296.00 13.47 L297.00 13.37 L298.00 13.27 L299.00 13.18 L300.00 13.08 L301.00 12.99 L302.00 12.89 L303.00 12.80 L304.00 12.71 L305.00 12.62 L306.00 12.54 L307.00 12.45 L308.00 12.36 L309.00 12.28 L310.00 12.20 L311.00 12.11 L312.00 12.03 L313.00 11.95 L314.00 11.87 L315.00 11.78 L316.00 11.70 L317.00 11.62 L318.00 11.54 L319.00 11.46 L320.00 11.37 L321.00 11.29 L322.00 11.21 L323.00 11.12 L323.50 11.08" stroke="#0000ff" stroke-width="2.20" fill="none" stroke-dasharray="4 5"/>
<path d="M143.60 21.28 L144.60 20.94 L145.60 20.60 L146.60 20.26 L147.60 19.93 L148.60 19.60 L149.60 19.27 L150.60 18.94 L151.60 18.62 L152.60 18.30 L153.60 17.99 L154.60 17.68 L155.60 17.38 L156.60 17.08 L157.60 16.78 L158.60 16.49 L159.60 16.20 L160.60 15.92 L161.60 15.63 L162.60 15.36 L163.60 15.08 L164.60 14.81 L165.60 14.55 L166.60 14.29 L167.60 14.03 L168.60 13.77 L169.60 13.52 L170.60 13.28 L171.60 13.04 L172.60 12.80 L173.60 12.57 L174.60 12.35 L175.60 12.14 L176.60 11.93 L177.60 11.72 L178.60 11.51 L179.60 11.31 L180.60 11.11 L181.60 10.91 L182.60 10.72 L183.60 10.53 L184.60 10.35 L185.60 10.18 L186.60 10.01 L187.60 9.86 L188.60 9.70 L189.60 9.54 L190.60 9.38 L191.60 9.23 L192.60 9.07 L193.60 8.93 L194.60 8.79 L195.60 8.68 L196.60 8.58 L197.60 8.50 L198.60 8.43 L199.60 8.38 L200.60 8.34 L201.60 8.30 L202.60 8.27 L203.60 8.24 L204.60 8.22 L205.60 8.20 L206.60 8.18 L207.60 8.17 L208.60 8.15 L209.60 8.14 L210.60 8.13 L211.60 8.12 L212.60 8.10 L213.60 8.09 L214.60 8.08 L215.60 8.06 L216.60 8.03 L217.60 8.01 L218.60 7.99 L219.60 7.97 L220.60 7.96 L221.60 7.94 L222.60 7.93 L223.60 7.92 L224.60 7.91 L225.60 7.89 L226.60 7.88 L227.60 7.86 L228.60 7.84 L229.60 7.83 L230.60 7.81 L231.60 7.81 L232.60 7.80 L233.60 7.80 L234.60 7.80 L235.60 7.80 L236.60 7.80 L237.60 7.80 L238.60 7.80 L239.60 7.80 L240.60 7.80 L241.60 7.80 L242.60 7.80 L243.60 7.80 L244.60 7.80 L245.60 7.80 L246.60 7.80 L247.60 7.80 L248.60 7.80 L249.60 7.80 L250.60 7.80 L251.60 7.80 L252.60 7.80 L253.60 7.80 L254.60 7.80 L255.60 7.80 L256.60 7.80 L257.60 7.80 L258.60 7.80 L259.60 7.80 L260.60 7.80 L261.60 7.80 L262.60 7.80 L263.60 7.80 L264.60 7.80 L265.60 7.81 L266.60 7.81 L267.60 7.81 L268.60 7.82 L269.60 7.82 L270.60 7.83 L271.60 7.83 L272.60 7.84 L273.60 7.84 L274.60 7.85 L275.60 7.85 L276.60 7.86 L277.60 7.86 L278.60 7.86 L279.60 7.87 L280.60 7.87 L281.60 7.88 L282.60 7.88 L283.60 7.89 L284.60 7.89 L285.60 7.89 L286.60 7.90 L287.60 7.90 L288.60 7.90 L289.60 7.90 L290.60 7.90 L291.60 7.90 L292.60 7.90 L293.60 7.90 L294.60 7.90 L295.60 7.90 L296.60 7.90 L297.60 7.90 L298.60 7.90 L299.60 7.90 L300.60 7.90 L301.60 7.90 L302.60 7.90 L303.60 7.90 L304.60 7.90 L305.60 7.90 L306.60 7.90 L307.60 7.90 L308.60 7.90 L309.60 7.90 L310.60 7.90 L311.60 7.90 L312.60 7.90 L313.60 7.90 L314.60 7.90 L315.60 7.90 L316.60 7.90 L317.60 7.90 L318.60 7.90 L319.60 7.90 L320.60 7.90 L321.60 7.90 L322.60 7.90 L323.50 7.90" stroke="#ffa500" stroke-width="2.20" fill="none"/>
<path d="M143.60 38.70 L144.60 38.29 L145.60 37.87 L146.60 37.46 L147.60 37.05 L148.60 36.64 L149.60 36.24 L150.60 35.83 L151.60 35.43 L152.60 35.03 L153.60 34.63 L154.60 34.23 L155.60 33.84 L156.60 33.45 L157.60 33.06 L158.60 32.67 L159.60 32.29 L160.60 31.91 L161.60 31.53 L162.60 31.15 L163.60 30.78 L164.60 30.41 L165.60 30.04 L166.60 29.67 L167.60 29.31 L168.60 28.95 L169.60 28.59 L170.60 28.24 L171.60 27.89 L172.60 27.54 L173.60 27.19 L174.60 26.85 L175.60 26.51 L176.60 26.18 L177.60 25.84 L178.60 25.51 L179.60 25.19 L180.60 24.87 L181.60 24.55 L182.60 24.23 L183.60 23.92 L184.60 23.61 L185.60 23.31 L186.60 23.01 L187.60 22.71 L188.60 22.42 L189.60 22.13 L190.60 21.85 L191.60 21.57 L192.60 21.29 L193.60 21.02 L194.60 20.75 L195.60 20.48 L196.60 20.22 L197.60 19.97 L198.60 19.72 L199.60 19.47 L200.60 19.23 L201.60 18.99 L202.60 18.76 L203.60 18.53 L204.60 18.30 L205.60 18.08 L206.60 17.87 L207.60 17.66 L208.60 17.45 L209.60 17.25 L210.60 17.05 L211.60 16.85 L212.60 16.66 L213.60 16.47 L214.60 16.29 L215.60 16.11 L216.60 15.93 L217.60 15.76 L218.60 15.59 L219.60 15.43 L220.60 15.27 L221.60 15.11 L222.60 14.96 L223.60 14.81 L224.60 14.66 L225.60 14.52 L226.60 14.38 L227.60 14.25 L228.60 14.11 L229.60 13.98 L230.60 13.86 L231.60 13.73 L232.60 13.61 L233.60 13.50 L234.60 13.38 L235.60 13.27 L236.60 13.16 L237.60 13.06 L238.60 12.96 L239.60 12.86 L240.60 12.76 L241.60 12.66 L242.60 12.57 L243.60 12.48 L244.60 12.40 L245.60 12.31 L246.60 12.23 L247.60 12.15 L248.60 12.07 L249.60 12.00 L250.60 11.92 L251.60 11.85 L252.60 11.78 L253.60 11.72 L254.60 11.65 L255.60 11.59 L256.60 11.53 L257.60 11.47 L258.60 11.41 L259.60 11.36 L260.60 11.30 L261.60 11.25 L262.60 11.20 L263.60 11.15 L264.60 11.10 L265.60 11.06 L266.60 11.01 L267.60 10.97 L268.60 10.92 L269.60 10.88 L270.60 10.84 L271.60 10.80 L272.60 10.77 L273.60 10.73 L274.60 10.69 L275.60 10.66 L276.60 10.62 L277.60 10.59 L278.60 10.56 L279.60 10.52 L280.60 10.49 L281.60 10.46 L282.60 10.43 L283.60 10.40 L284.60 10.37 L285.60 10.34 L286.60 10.32 L287.60 10.29 L288.60 10.26 L289.60 10.23 L290.60 10.20 L291.60 10.18 L292.60 10.15 L293.60 10.12 L294.60 10.09 L295.60 10.07 L296.60 10.04 L297.60 10.01 L298.60 9.98 L299.60 9.95 L300.60 9.92 L301.60 9.89 L302.60 9.86 L303.60 9.83 L304.60 9.80 L305.60 9.77 L306.60 9.74 L307.60 9.71 L308.60 9.67 L309.60 9.64 L310.60 9.60 L311.60 9.57 L312.60 9.53 L313.60 9.49 L314.60 9.45 L315.60 9.41 L316.60 9.37 L317.60 9.33 L318.60 9.28 L319.60 9.24 L320.60 9.19 L321.60 9.14 L322.60 9.09 L323.50 9.05" stroke="#ffa500" stroke-width="2.20" fill="none"/>
<path d="M144.10 207.10 L144.10 206.10 L144.11 205.10 L144.11 204.10 L144.12 203.10 L144.13 202.09 L144.15 201.09 L144.17 200.09 L144.18 199.09 L144.20 198.10 L144.23 197.10 L144.25 196.10 L144.27 195.10 L144.30 194.10 L144.33 193.10 L144.38 192.11 L144.44 191.11 L144.51 190.11 L144.60 189.12 L144.69 188.12 L144.80 187.13 L144.91 186.13 L145.02 185.14 L145.13 184.14 L145.25 183.15 L145.36 182.15 L145.48 181.16 L145.59 180.16 L145.69 179.17 L145.78 178.17 L145.87 177.17 L145.96 176.18 L146.04 175.18 L146.12 174.18 L146.20 173.19 L146.28 172.19 L146.35 171.19 L146.43 170.19 L146.51 169.20 L146.59 168.20 L146.68 167.20 L146.77 166.21 L146.86 165.21 L146.96 164.22 L147.06 163.22 L147.17 162.23 L147.29 161.24 L147.43 160.25 L147.58 159.26 L147.74 158.27 L147.91 157.29 L148.08 156.30 L148.25 155.31 L148.41 154.33 L148.57 153.34 L148.74 152.35 L148.90 151.36 L149.06 150.37 L149.22 149.38 L149.38 148.39 L149.54 147.40 L149.71 146.41 L149.87 145.42 L150.05 144.43 L150.22 143.44 L150.40 142.46 L150.59 141.47 L150.78 140.49 L150.98 139.52 L151.19 138.54 L151.41 137.57 L151.63 136.61 L151.86 135.64 L152.11 134.68 L152.38 133.73 L152.67 132.78 L152.98 131.83 L153.31 130.89 L153.65 129.94 L154.00 129.00 L154.36 128.07 L154.72 127.13 L155.10 126.20 L155.48 125.27 L155.85 124.33 L156.23 123.40 L156.61 122.47 L156.98 121.55 L157.35 120.62 L157.72 119.69 L158.09 118.76 L158.47 117.83 L158.85 116.91 L159.24 115.98 L159.63 115.06 L160.02 114.14 L160.42 113.22 L160.82 112.31 L161.23 111.40 L161.65 110.49 L162.07 109.59 L162.51 108.68 L162.94 107.78 L163.39 106.89 L163.84 106.00 L164.30 105.11 L164.76 104.22 L165.23 103.33 L165.70 102.45 L166.18 101.58 L166.66 100.70 L167.15 99.83 L167.65 98.96 L168.14 98.09 L168.65 97.23 L169.15 96.36 L169.66 95.50 L170.16 94.64 L170.67 93.77 L171.18 92.91 L171.68 92.05 L172.18 91.18 L172.69 90.32 L173.19 89.46 L173.70 88.60 L174.21 87.73 L174.71 86.87 L175.22 86.01 L175.73 85.15 L176.24 84.29 L176.75 83.43 L177.27 82.57 L177.78 81.71 L178.00 81.35 L179.00 80.10 L180.00 78.86 L181.00 77.61 L182.00 76.37 L183.00 75.14 L184.00 73.90 L185.00 72.67 L186.00 71.44 L187.00 70.22 L188.00 69.01 L189.00 67.80 L190.00 66.60 L191.00 65.40 L192.00 64.22 L193.00 63.04 L194.00 61.87 L195.00 60.72 L196.00 59.57 L197.00 58.43 L198.00 57.31 L199.00 56.20 L200.00 55.10 L201.00 54.01 L202.00 52.94 L203.00 51.89 L204.00 50.85 L205.00 49.82 L206.00 48.81 L207.00 47.82 L208.00 46.85 L209.00 45.89 L210.00 44.95 L211.00 44.04 L212.00 43.14 L213.00 42.26 L214.00 41.40 L215.00 40.57 L216.00 39.75 L217.00 38.96 L218.00 38.19 L219.00 37.45 L220.00 36.72 L221.00 36.01 L222.00 35.33 L223.00 34.66 L224.00 34.02 L225.00 33.39 L226.00 32.78 L227.00 32.19 L228.00 31.61 L229.00 31.05 L230.00 30.51 L231.00 29.98 L232.00 29.46 L233.00 28.96 L234.00 28.47 L235.00 28.00 L236.00 27.54 L237.00 27.09 L238.00 26.65 L239.00 26.22 L240.00 25.80 L241.00 25.39 L242.00 25.00 L243.00 24.61 L244.00 24.23 L245.00 23.86 L246.00 23.51 L247.00 23.16 L248.00 22.81 L249.00 22.48 L250.00 22.16 L251.00 21.84 L252.00 21.54 L253.00 21.24 L254.00 20.95 L255.00 20.66 L256.00 20.39 L257.00 20.12 L258.00 19.85 L259.00 19.60 L260.00 19.35 L261.00 19.10 L262.00 18.86 L263.00 18.63 L264.00 18.41 L265.00 18.18 L266.00 17.97 L267.00 17.76 L268.00 17.55 L269.00 17.35 L270.00 17.16 L271.00 16.97 L272.00 16.78 L273.00 16.60 L274.00 16.42 L275.00 16.25 L276.00 16.08 L277.00 15.92 L278.00 15.76 L279.00 15.61 L280.00 15.45 L281.00 15.31 L282.00 15.16 L283.00 15.02 L284.00 14.89 L285.00 14.75 L286.00 14.62 L287.00 14.49 L288.00 14.37 L289.00 14.25 L290.00 14.13 L291.00 14.02 L292.00 13.90 L293.00 13.79 L294.00 13.68 L295.00 13.58 L296.00 13.47 L297.00 13.37 L298.00 13.27 L299.00 13.18 L300.00 13.08 L301.00 12.99 L302.00 12.89 L303.00 12.80 L304.00 12.71 L305.00 12.62 L306.00 12.54 L307.00 12.45 L308.00 12.36 L309.00 12.28 L310.00 12.20 L311.00 12.11 L312.00 12.03 L313.00 11.95 L314.00 11.87 L315.00 11.78 L316.00 11.70 L317.00 11.62 L318.00 11.54 L319.00 11.46 L320.00 11.37 L321.00 11.29 L322.00 11.21 L323.00 11.12 L323.50 11.08" stroke="#ffa500" stroke-width="2.20" fill="none" stroke-dasharray="14.2 7.5 14.2 7.5 14.2 7.5 14.2 7.5 14.2 7.3 2000 0"/>
<path d="M186.40 10.55 L186.90 10.47 L187.40 10.39 L187.80 10.32" stroke="#0000ff" stroke-width="2.30" fill="none"/>
<path d="M187.80 10.32 L188.30 10.24 L188.80 10.17 L189.30 10.09 L189.80 10.01 L190.30 9.93 L190.80 9.85 L191.30 9.77 L191.80 9.70 L192.30 9.62 L192.80 9.55 L193.30 9.47 L193.70 9.42" stroke="#ff0000" stroke-width="2.30" fill="none"/>
<path d="M208.80 8.31 L209.30 8.29 L209.80 8.27 L210.30 8.25 L210.80 8.23 L211.30 8.21 L211.80 8.19 L212.30 8.17 L212.80 8.16 L213.00 8.15" stroke="#ff0000" stroke-width="2.30" fill="none"/>
<path d="M213.00 8.15 L213.50 8.13 L214.00 8.11 L214.50 8.10 L215.00 8.08 L215.20 8.07" stroke="#0000ff" stroke-width="2.30" fill="none"/>
<path d="M236.60 7.80 L237.10 7.80 L237.60 7.80 L238.10 7.80 L238.50 7.80" stroke="#0000ff" stroke-width="2.30" fill="none"/>
<path d="M238.50 7.80 L239.00 7.80 L239.50 7.80 L240.00 7.80 L240.50 7.80 L241.00 7.80 L241.50 7.80 L242.00 7.80" stroke="#ff0000" stroke-width="2.30" fill="none"/>
<path d="M261.40 7.80 L261.90 7.80 L262.40 7.80 L262.50 7.80" stroke="#0000ff" stroke-width="2.30" fill="none"/>
<path d="M262.50 7.80 L263.00 7.80 L263.50 7.80 L263.70 7.80" stroke="#006400" stroke-width="2.30" fill="none"/>
<path d="M172.30 27.64 L172.80 27.47 L173.30 27.30 L173.80 27.12 L174.00 27.06" stroke="#ff0000" stroke-width="2.30" fill="none"/>
<path d="M189.40 22.19 L189.90 22.05 L190.40 21.90 L190.90 21.76 L191.40 21.62 L191.90 21.48 L192.40 21.34 L192.90 21.21 L193.00 21.18" stroke="#ff0000" stroke-width="2.30" fill="none"/>
<path d="M207.50 17.68 L208.00 17.57 L208.50 17.47 L209.00 17.37 L209.50 17.27 L210.00 17.17 L210.50 17.07 L211.00 16.97 L211.50 16.87 L211.70 16.83" stroke="#ff0000" stroke-width="2.30" fill="none"/>
<path d="M234.80 13.36 L235.30 13.31 L235.80 13.25 L236.30 13.20 L236.80 13.14" stroke="#0000ff" stroke-width="2.30" fill="none"/>
<path d="M236.80 13.14 L237.30 13.09 L237.80 13.04 L238.30 12.99 L238.80 12.94 L239.30 12.89" stroke="#ff0000" stroke-width="2.30" fill="none"/>
<path d="M261.00 11.28 L261.50 11.26 L262.00 11.23 L262.50 11.20 L263.00 11.18 L263.20 11.17" stroke="#006400" stroke-width="2.30" fill="none"/>
<path d="M181.00 77.61 L181.50 76.99 L182.00 76.37 L182.20 76.13" stroke="#0000ff" stroke-width="2.30" fill="none"/>
<path d="M182.50 75.75 L183.00 75.14 L183.50 74.52 L183.80 74.15" stroke="#ff0000" stroke-width="2.30" fill="none"/>
<path d="M199.00 56.20 L199.50 55.65 L200.00 55.10 L200.30 54.77" stroke="#ff0000" stroke-width="2.30" fill="none"/>
<path d="M206.30 48.51 L206.80 48.02 L207.30 47.53 L207.80 47.04" stroke="#ff0000" stroke-width="2.30" fill="none"/>
<path d="M207.80 47.04 L208.30 46.56 L208.80 46.08 L209.30 45.61 L209.50 45.42" stroke="#0000ff" stroke-width="2.30" fill="none"/>
<path d="M235.70 27.67 L236.20 27.45 L236.70 27.22 L237.20 27.00 L237.70 26.78 L238.20 26.56 L238.70 26.35 L239.20 26.13 L239.70 25.93 L240.20 25.72" stroke="#ff0000" stroke-width="2.30" fill="none"/>
<path d="M260.00 19.35 L260.50 19.22 L261.00 19.10 L261.50 18.98" stroke="#006400" stroke-width="2.30" fill="none"/>
<path d="M261.50 18.98 L262.00 18.86 L262.50 18.75 L263.00 18.63" stroke="#0000ff" stroke-width="2.30" fill="none"/>
<path d="M60.50 56.53 L61.50 56.10 L62.50 55.66 L63.50 55.22 L64.50 54.79 L65.50 54.35 L66.50 53.91 L67.50 53.47 L68.50 53.04 L69.50 52.60 L70.50 52.16 L71.50 51.72 L72.50 51.28 L73.50 50.84 L74.50 50.40 L75.50 49.96 L76.50 49.52 L77.50 49.08 L78.50 48.64 L79.50 48.20 L80.50 47.75 L81.50 47.31 L82.50 46.86 L83.50 46.42 L84.50 45.98 L85.50 45.53 L86.50 45.09 L87.50 44.64 L88.50 44.20 L89.50 43.76 L90.50 43.32 L91.50 42.87 L92.50 42.43 L93.50 42.00 L94.50 41.56 L95.50 41.12 L96.50 40.68 L97.50 40.25 L98.50 39.81 L99.50 39.37 L100.50 38.94 L101.50 38.50 L102.50 38.07 L103.50 37.63 L104.50 37.20 L105.50 36.77 L106.50 36.34 L107.50 35.91 L108.50 35.49 L109.50 35.06 L110.50 34.64 L111.50 34.22 L112.50 33.81 L113.50 33.39 L114.50 32.97 L115.50 32.56 L116.50 32.15 L117.50 31.73 L118.50 31.32 L119.50 30.92 L120.50 30.51 L121.50 30.10 L122.50 29.70 L123.50 29.30 L124.50 28.90 L125.50 28.50 L126.50 28.11 L127.50 27.72 L128.50 27.33 L129.50 26.94 L130.50 26.56 L131.50 26.18 L132.50 25.80 L133.50 25.42 L134.50 25.05 L135.50 24.67 L136.50 24.30 L137.50 23.94 L138.50 23.58 L139.50 23.22 L140.50 22.86 L141.50 22.51 L142.50 22.16 L143.50 21.82 L144.50 21.47 L145.50 21.13 L146.50 20.80 L147.50 20.46 L148.50 20.13 L149.50 19.80 L150.50 19.47 L151.50 19.15 L152.50 18.83 L153.50 18.52 L154.50 18.21 L155.50 17.91 L156.50 17.61 L157.50 17.31 L158.50 17.02 L159.50 16.73 L160.50 16.44 L161.50 16.16 L162.50 15.88 L163.50 15.61 L164.50 15.34 L165.50 15.07 L166.50 14.81 L167.50 14.55 L168.50 14.30 L169.50 14.05 L170.50 13.80 L171.50 13.56 L172.50 13.32 L173.50 13.10 L174.50 12.87 L175.50 12.66 L176.50 12.45 L177.50 12.24 L178.50 12.03 L179.50 11.83 L180.50 11.63 L181.50 11.43 L182.50 11.24 L183.50 11.05 L184.50 10.87 L185.50 10.70 L186.50 10.53 L187.50 10.37 L188.50 10.21 L189.50 10.05 L190.50 9.90 L191.50 9.74 L192.50 9.59 L193.50 9.44 L194.50 9.30 L195.50 9.17 L196.50 9.05 L197.50 8.95 L198.50 8.85 L199.50 8.77 L200.50 8.70 L201.50 8.64 L202.50 8.58 L203.50 8.53 L204.50 8.48 L205.50 8.44 L206.50 8.40 L207.50 8.36 L208.50 8.32 L209.50 8.28 L210.50 8.24 L211.50 8.20 L212.50 8.17 L213.50 8.13 L214.50 8.10 L215.50 8.06 L216.50 8.03 L217.50 8.01 L218.50 7.99 L219.50 7.97 L220.50 7.96 L221.50 7.94 L222.50 7.93 L223.50 7.92 L224.50 7.91 L225.50 7.89 L226.50 7.88 L227.50 7.86 L228.50 7.84 L229.50 7.83 L230.50 7.82 L231.50 7.81 L232.50 7.80 L233.50 7.80 L234.50 7.80 L235.50 7.80 L236.50 7.80 L237.50 7.80 L238.50 7.80 L239.50 7.80 L240.50 7.80 L241.50 7.80 L242.50 7.80 L243.50 7.80 L244.50 7.80 L245.50 7.80 L246.50 7.80 L247.50 7.80 L248.50 7.80 L249.50 7.80 L250.50 7.80 L251.50 7.80 L252.50 7.80 L253.50 7.80 L254.50 7.80 L255.50 7.80 L256.50 7.80 L257.50 7.80 L258.50 7.80 L259.50 7.80 L260.50 7.80 L261.50 7.80 L262.50 7.80 L263.50 7.80 L264.50 7.80 L265.50 7.81 L266.50 7.81 L267.50 7.81 L268.50 7.82 L269.50 7.82 L270.50 7.83 L271.50 7.83 L272.50 7.84 L273.50 7.84 L274.50 7.85 L275.50 7.85 L276.50 7.86 L277.50 7.86 L278.50 7.86 L279.50 7.87 L280.50 7.87 L281.50 7.88 L282.50 7.88 L283.50 7.89 L284.50 7.89 L285.50 7.89 L286.50 7.90 L287.50 7.90 L288.50 7.90 L289.50 7.90 L290.50 7.90 L291.50 7.90 L292.50 7.90 L293.50 7.90 L294.50 7.90 L295.50 7.90 L296.50 7.90 L297.50 7.90 L298.50 7.90 L299.50 7.90 L300.50 7.90 L301.50 7.90 L302.50 7.90 L303.50 7.90 L304.50 7.90 L305.50 7.90 L306.50 7.90 L307.50 7.90 L308.50 7.90 L309.50 7.90 L310.50 7.90 L311.50 7.90 L312.50 7.90 L313.50 7.90 L314.50 7.90 L315.50 7.90 L316.50 7.90 L317.50 7.90 L318.50 7.90 L319.50 7.90 L320.50 7.90 L321.50 7.90 L322.50 7.90 L323.50 7.90" stroke="#000" stroke-width="2.15" fill="none" stroke-dasharray="3.75 5.3"/>
<path d="M60.50 74.65 L61.50 74.25 L62.50 73.86 L63.50 73.46 L64.50 73.05 L65.50 72.65 L66.50 72.24 L67.50 71.84 L68.50 71.43 L69.50 71.02 L70.50 70.60 L71.50 70.19 L72.50 69.77 L73.50 69.35 L74.50 68.93 L75.50 68.51 L76.50 68.09 L77.50 67.66 L78.50 67.24 L79.50 66.81 L80.50 66.38 L81.50 65.95 L82.50 65.52 L83.50 65.09 L84.50 64.66 L85.50 64.22 L86.50 63.78 L87.50 63.35 L88.50 62.91 L89.50 62.47 L90.50 62.03 L91.50 61.59 L92.50 61.15 L93.50 60.71 L94.50 60.27 L95.50 59.82 L96.50 59.38 L97.50 58.93 L98.50 58.49 L99.50 58.04 L100.50 57.60 L101.50 57.15 L102.50 56.71 L103.50 56.26 L104.50 55.81 L105.50 55.37 L106.50 54.92 L107.50 54.47 L108.50 54.03 L109.50 53.58 L110.50 53.13 L111.50 52.68 L112.50 52.24 L113.50 51.79 L114.50 51.35 L115.50 50.90 L116.50 50.45 L117.50 50.01 L118.50 49.57 L119.50 49.12 L120.50 48.68 L121.50 48.23 L122.50 47.79 L123.50 47.35 L124.50 46.91 L125.50 46.47 L126.50 46.03 L127.50 45.59 L128.50 45.16 L129.50 44.72 L130.50 44.28 L131.50 43.85 L132.50 43.42 L133.50 42.99 L134.50 42.55 L135.50 42.13 L136.50 41.70 L137.50 41.27 L138.50 40.85 L139.50 40.42 L140.50 40.00 L141.50 39.58 L142.50 39.16 L143.50 38.74 L144.50 38.33 L145.50 37.91 L146.50 37.50 L147.50 37.09 L148.50 36.68 L149.50 36.28 L150.50 35.87 L151.50 35.47 L152.50 35.07 L153.50 34.67 L154.50 34.27 L155.50 33.88 L156.50 33.49 L157.50 33.10 L158.50 32.71 L159.50 32.33 L160.50 31.95 L161.50 31.57 L162.50 31.19 L163.50 30.82 L164.50 30.44 L165.50 30.08 L166.50 29.71 L167.50 29.35 L168.50 28.99 L169.50 28.63 L170.50 28.27 L171.50 27.92 L172.50 27.57 L173.50 27.23 L174.50 26.88 L175.50 26.55 L176.50 26.21 L177.50 25.88 L178.50 25.55 L179.50 25.22 L180.50 24.90 L181.50 24.58 L182.50 24.26 L183.50 23.95 L184.50 23.64 L185.50 23.34 L186.50 23.04 L187.50 22.74 L188.50 22.45 L189.50 22.16 L190.50 21.87 L191.50 21.59 L192.50 21.32 L193.50 21.04 L194.50 20.77 L195.50 20.51 L196.50 20.25 L197.50 19.99 L198.50 19.74 L199.50 19.50 L200.50 19.25 L201.50 19.01 L202.50 18.78 L203.50 18.55 L204.50 18.33 L205.50 18.11 L206.50 17.89 L207.50 17.68 L208.50 17.47 L209.50 17.27 L210.50 17.07 L211.50 16.87 L212.50 16.68 L213.50 16.49 L214.50 16.31 L215.50 16.13 L216.50 15.95 L217.50 15.78 L218.50 15.61 L219.50 15.45 L220.50 15.29 L221.50 15.13 L222.50 14.98 L223.50 14.83 L224.50 14.68 L225.50 14.54 L226.50 14.40 L227.50 14.26 L228.50 14.13 L229.50 14.00 L230.50 13.87 L231.50 13.75 L232.50 13.63 L233.50 13.51 L234.50 13.39 L235.50 13.28 L236.50 13.17 L237.50 13.07 L238.50 12.97 L239.50 12.87 L240.50 12.77 L241.50 12.67 L242.50 12.58 L243.50 12.49 L244.50 12.41 L245.50 12.32 L246.50 12.24 L247.50 12.16 L248.50 12.08 L249.50 12.01 L250.50 11.93 L251.50 11.86 L252.50 11.79 L253.50 11.72 L254.50 11.66 L255.50 11.60 L256.50 11.54 L257.50 11.48 L258.50 11.42 L259.50 11.36 L260.50 11.31 L261.50 11.26 L262.50 11.20 L263.50 11.15 L264.50 11.11 L265.50 11.06 L266.50 11.01 L267.50 10.97 L268.50 10.93 L269.50 10.89 L270.50 10.85 L271.50 10.81 L272.50 10.77 L273.50 10.73 L274.50 10.70 L275.50 10.66 L276.50 10.63 L277.50 10.59 L278.50 10.56 L279.50 10.53 L280.50 10.50 L281.50 10.47 L282.50 10.43 L283.50 10.41 L284.50 10.38 L285.50 10.35 L286.50 10.32 L287.50 10.29 L288.50 10.26 L289.50 10.23 L290.50 10.21 L291.50 10.18 L292.50 10.15 L293.50 10.12 L294.50 10.10 L295.50 10.07 L296.50 10.04 L297.50 10.01 L298.50 9.98 L299.50 9.96 L300.50 9.93 L301.50 9.90 L302.50 9.87 L303.50 9.84 L304.50 9.81 L305.50 9.78 L306.50 9.74 L307.50 9.71 L308.50 9.68 L309.50 9.64 L310.50 9.61 L311.50 9.57 L312.50 9.53 L313.50 9.49 L314.50 9.46 L315.50 9.42 L316.50 9.37 L317.50 9.33 L318.50 9.29 L319.50 9.24 L320.50 9.19 L321.50 9.15 L322.50 9.10 L323.50 9.05" stroke="#000" stroke-width="2.15" fill="none" stroke-dasharray="3.75 5.3"/>
<path d="M60.50 238.00 L61.50 236.63 L62.50 235.27 L63.50 233.89 L64.50 232.52 L65.50 231.13 L66.50 229.75 L67.50 228.36 L68.50 226.97 L69.50 225.58 L70.50 224.18 L71.50 222.78 L72.50 221.38 L73.50 219.97 L74.50 218.56 L75.50 217.15 L76.50 215.74 L77.50 214.33 L78.50 212.91 L79.50 211.49 L80.50 210.07 L81.50 208.65 L82.50 207.23 L83.50 205.80 L84.50 204.38 L85.50 202.95 L86.50 201.53 L87.50 200.10 L88.50 198.67 L89.50 197.25 L90.50 195.82 L91.50 194.39 L92.50 192.96 L93.50 191.53 L94.50 190.11 L95.50 188.68 L96.50 187.25 L97.50 185.83 L98.50 184.40 L99.50 182.98 L100.50 181.56 L101.50 180.14 L102.50 178.72 L103.50 177.30 L104.50 175.89 L105.50 174.47 L106.50 173.06 L107.50 171.65 L108.50 170.25 L109.50 168.84 L110.50 167.44 L111.50 166.04 L112.50 164.65 L113.50 163.25 L114.50 161.86 L115.50 160.48 L116.50 159.10 L117.50 157.72 L118.50 156.34 L119.50 154.97 L120.50 153.60 L121.50 152.24 L122.50 150.88 L123.50 149.53 L124.50 148.18 L125.50 146.83 L126.50 145.50 L127.50 144.16 L128.50 142.83 L129.50 141.51 L130.50 140.19 L131.50 138.88 L132.50 137.57 L133.50 136.27 L134.50 134.97 L135.50 133.69 L136.50 132.40 L137.50 131.13 L138.50 129.86 L139.50 128.59 L140.50 127.33 L141.50 126.08 L142.50 124.83 L143.50 123.59 L144.50 122.35 L145.50 121.11 L146.50 119.88 L147.50 118.65 L148.50 117.43 L149.50 116.20 L150.50 114.98 L151.50 113.76 L152.50 112.55 L153.50 111.33 L154.50 110.12 L155.50 108.91 L156.50 107.70 L157.50 106.49 L158.50 105.28 L159.50 104.07 L160.50 102.85 L161.50 101.64 L162.50 100.43 L163.50 99.22 L164.50 98.00 L165.50 96.78 L166.50 95.57 L167.50 94.34 L168.50 93.12 L169.50 91.89 L170.50 90.66 L171.50 89.43 L172.50 88.19 L173.50 86.95 L174.50 85.71 L175.50 84.46 L176.50 83.22 L177.50 81.97 L178.50 80.73 L179.50 79.48 L180.50 78.24 L181.50 76.99 L182.50 75.75 L183.50 74.52 L184.50 73.28 L185.50 72.06 L186.50 70.83 L187.50 69.61 L188.50 68.40 L189.50 67.20 L190.50 66.00 L191.50 64.81 L192.50 63.63 L193.50 62.46 L194.50 61.29 L195.50 60.14 L196.50 59.00 L197.50 57.87 L198.50 56.75 L199.50 55.65 L200.50 54.56 L201.50 53.48 L202.50 52.41 L203.50 51.37 L204.50 50.33 L205.50 49.32 L206.50 48.32 L207.50 47.33 L208.50 46.37 L209.50 45.42 L210.50 44.49 L211.50 43.58 L212.50 42.70 L213.50 41.83 L214.50 40.98 L215.50 40.16 L216.50 39.35 L217.50 38.57 L218.50 37.82 L219.50 37.08 L220.50 36.36 L221.50 35.67 L222.50 34.99 L223.50 34.34 L224.50 33.70 L225.50 33.08 L226.50 32.48 L227.50 31.90 L228.50 31.33 L229.50 30.78 L230.50 30.24 L231.50 29.72 L232.50 29.21 L233.50 28.72 L234.50 28.24 L235.50 27.77 L236.50 27.31 L237.50 26.87 L238.50 26.43 L239.50 26.01 L240.50 25.60 L241.50 25.19 L242.50 24.80 L243.50 24.42 L244.50 24.05 L245.50 23.68 L246.50 23.33 L247.50 22.98 L248.50 22.65 L249.50 22.32 L250.50 22.00 L251.50 21.69 L252.50 21.39 L253.50 21.09 L254.50 20.80 L255.50 20.52 L256.50 20.25 L257.50 19.98 L258.50 19.72 L259.50 19.47 L260.50 19.22 L261.50 18.98 L262.50 18.75 L263.50 18.52 L264.50 18.29 L265.50 18.08 L266.50 17.86 L267.50 17.66 L268.50 17.45 L269.50 17.25 L270.50 17.06 L271.50 16.87 L272.50 16.69 L273.50 16.51 L274.50 16.34 L275.50 16.17 L276.50 16.00 L277.50 15.84 L278.50 15.68 L279.50 15.53 L280.50 15.38 L281.50 15.23 L282.50 15.09 L283.50 14.95 L284.50 14.82 L285.50 14.69 L286.50 14.56 L287.50 14.43 L288.50 14.31 L289.50 14.19 L290.50 14.07 L291.50 13.96 L292.50 13.85 L293.50 13.74 L294.50 13.63 L295.50 13.53 L296.50 13.42 L297.50 13.32 L298.50 13.22 L299.50 13.13 L300.50 13.03 L301.50 12.94 L302.50 12.85 L303.50 12.76 L304.50 12.67 L305.50 12.58 L306.50 12.49 L307.50 12.41 L308.50 12.32 L309.50 12.24 L310.50 12.15 L311.50 12.07 L312.50 11.99 L313.50 11.91 L314.50 11.82 L315.50 11.74 L316.50 11.66 L317.50 11.58 L318.50 11.50 L319.50 11.41 L320.50 11.33 L321.50 11.25 L322.50 11.17 L323.50 11.08" stroke="#000" stroke-width="2.15" fill="none" stroke-dasharray="3.75 5.27"/>
</g>
<path d="M69.65 238.00 v-2.10 M69.65 3.47 v2.10" stroke="#333" stroke-width="0.7"/>
<path d="M77.30 238.00 v-2.10 M77.30 3.47 v2.10" stroke="#333" stroke-width="0.7"/>
<path d="M83.93 238.00 v-2.10 M83.93 3.47 v2.10" stroke="#333" stroke-width="0.7"/>
<path d="M89.77 238.00 v-2.10 M89.77 3.47 v2.10" stroke="#333" stroke-width="0.7"/>
<path d="M95.00 238.00 v-4.60 M95.00 3.47 v4.60" stroke="#333" stroke-width="0.7"/>
<path d="M129.39 238.00 v-2.10 M129.39 3.47 v2.10" stroke="#333" stroke-width="0.7"/>
<path d="M149.51 238.00 v-2.10 M149.51 3.47 v2.10" stroke="#333" stroke-width="0.7"/>
<path d="M163.79 238.00 v-2.10 M163.79 3.47 v2.10" stroke="#333" stroke-width="0.7"/>
<path d="M174.86 238.00 v-2.10 M174.86 3.47 v2.10" stroke="#333" stroke-width="0.7"/>
<path d="M183.90 238.00 v-2.10 M183.90 3.47 v2.10" stroke="#333" stroke-width="0.7"/>
<path d="M191.55 238.00 v-2.10 M191.55 3.47 v2.10" stroke="#333" stroke-width="0.7"/>
<path d="M198.18 238.00 v-2.10 M198.18 3.47 v2.10" stroke="#333" stroke-width="0.7"/>
<path d="M204.02 238.00 v-2.10 M204.02 3.47 v2.10" stroke="#333" stroke-width="0.7"/>
<path d="M209.25 238.00 v-4.60 M209.25 3.47 v4.60" stroke="#333" stroke-width="0.7"/>
<path d="M243.64 238.00 v-2.10 M243.64 3.47 v2.10" stroke="#333" stroke-width="0.7"/>
<path d="M263.76 238.00 v-2.10 M263.76 3.47 v2.10" stroke="#333" stroke-width="0.7"/>
<path d="M278.04 238.00 v-2.10 M278.04 3.47 v2.10" stroke="#333" stroke-width="0.7"/>
<path d="M289.11 238.00 v-2.10 M289.11 3.47 v2.10" stroke="#333" stroke-width="0.7"/>
<path d="M298.15 238.00 v-2.10 M298.15 3.47 v2.10" stroke="#333" stroke-width="0.7"/>
<path d="M305.80 238.00 v-2.10 M305.80 3.47 v2.10" stroke="#333" stroke-width="0.7"/>
<path d="M312.43 238.00 v-2.10 M312.43 3.47 v2.10" stroke="#333" stroke-width="0.7"/>
<path d="M318.27 238.00 v-2.10 M318.27 3.47 v2.10" stroke="#333" stroke-width="0.7"/>
<path d="M60.50 231.85 h2.10 M323.50 231.85 h-2.10" stroke="#333" stroke-width="0.7"/>
<path d="M60.50 226.39 h2.10 M323.50 226.39 h-2.10" stroke="#333" stroke-width="0.7"/>
<path d="M60.50 221.50 h4.60 M323.50 221.50 h-4.60" stroke="#333" stroke-width="0.7"/>
<path d="M60.50 189.34 h2.10 M323.50 189.34 h-2.10" stroke="#333" stroke-width="0.7"/>
<path d="M60.50 170.53 h2.10 M323.50 170.53 h-2.10" stroke="#333" stroke-width="0.7"/>
<path d="M60.50 157.19 h2.10 M323.50 157.19 h-2.10" stroke="#333" stroke-width="0.7"/>
<path d="M60.50 146.84 h2.10 M323.50 146.84 h-2.10" stroke="#333" stroke-width="0.7"/>
<path d="M60.50 138.38 h2.10 M323.50 138.38 h-2.10" stroke="#333" stroke-width="0.7"/>
<path d="M60.50 131.23 h2.10 M323.50 131.23 h-2.10" stroke="#333" stroke-width="0.7"/>
<path d="M60.50 125.03 h2.10 M323.50 125.03 h-2.10" stroke="#333" stroke-width="0.7"/>
<path d="M60.50 119.57 h2.10 M323.50 119.57 h-2.10" stroke="#333" stroke-width="0.7"/>
<path d="M60.50 114.68 h4.60 M323.50 114.68 h-4.60" stroke="#333" stroke-width="0.7"/>
<path d="M60.50 82.52 h2.10 M323.50 82.52 h-2.10" stroke="#333" stroke-width="0.7"/>
<path d="M60.50 63.71 h2.10 M323.50 63.71 h-2.10" stroke="#333" stroke-width="0.7"/>
<path d="M60.50 50.37 h2.10 M323.50 50.37 h-2.10" stroke="#333" stroke-width="0.7"/>
<path d="M60.50 40.02 h2.10 M323.50 40.02 h-2.10" stroke="#333" stroke-width="0.7"/>
<path d="M60.50 31.56 h2.10 M323.50 31.56 h-2.10" stroke="#333" stroke-width="0.7"/>
<path d="M60.50 24.41 h2.10 M323.50 24.41 h-2.10" stroke="#333" stroke-width="0.7"/>
<path d="M60.50 18.21 h2.10 M323.50 18.21 h-2.10" stroke="#333" stroke-width="0.7"/>
<path d="M60.50 12.75 h2.10 M323.50 12.75 h-2.10" stroke="#333" stroke-width="0.7"/>
<path d="M60.5 2.97 V238.55 M323.5 2.97 V238.55" stroke="#222" stroke-width="1.1" fill="none"/>
<path d="M60.5 3.47 H323.5" stroke="#3a3a3a" stroke-width="1" fill="none"/>
<path d="M60.5 238.0 H323.5" stroke="#222" stroke-width="1.15" fill="none"/>
<filter id="gs" x="0" y="0" width="332" height="283" filterUnits="userSpaceOnUse" color-interpolation-filters="sRGB"><feColorMatrix type="saturate" values="0"/></filter>
<g filter="url(#gs)">
<text transform="translate(44.47 12.00) scale(1.067 1.000)" font-size="14.8" font-family="&quot;Liberation Serif&quot;, serif">1</text>
<text transform="translate(32.84 119.30) scale(1.053 1.000)" font-size="14.8" font-family="&quot;Liberation Serif&quot;, serif">0.1</text>
<text transform="translate(26.48 225.30) scale(0.993 1.000)" font-size="14.8" font-family="&quot;Liberation Serif&quot;, serif">0.01</text>
<text transform="translate(85.26 256.10) scale(1.029 1.000)" font-size="14.8" font-family="&quot;Liberation Serif&quot;, serif">0.1</text>
<text transform="translate(205.31 256.10) scale(1.029 1.000)" font-size="14.8" font-family="&quot;Liberation Serif&quot;, serif">1</text>
<text transform="translate(315.26 256.10) scale(1.069 1.000)" font-size="14.8" font-family="&quot;Liberation Serif&quot;, serif">10</text>
<text transform="translate(96.43 27.80) scale(1.017 1.000)" font-size="14.8" font-family="&quot;Liberation Serif&quot;, serif" font-style="italic">P</text>
<text transform="translate(104.19 29.90) scale(1.298 1.000)" font-size="10.2" font-family="&quot;Liberation Serif&quot;, serif" font-style="italic">T</text>
<text transform="translate(94.63 76.40) scale(1.130 1.000)" font-size="14.8" font-family="&quot;Liberation Serif&quot;, serif" font-style="italic">e</text>
<text transform="translate(109.17 76.50) scale(0.980 1.000)" font-size="14.8" font-family="&quot;Liberation Serif&quot;, serif">3</text>
<text transform="translate(96.43 150.20) scale(1.017 1.000)" font-size="14.8" font-family="&quot;Liberation Serif&quot;, serif" font-style="italic">P</text>
<text transform="translate(105.15 152.70) scale(1.219 1.000)" font-size="10.2" font-family="&quot;Liberation Serif&quot;, serif" font-style="italic">L</text>
<text transform="translate(148.74 277.60) scale(1.228 1.000)" font-size="14.8" font-family="&quot;Liberation Serif&quot;, serif" font-style="italic">τ</text>
<text transform="translate(155.54 277.60) scale(1.157 1.000)" font-size="14.8" font-family="&quot;Liberation Serif&quot;, serif" font-style="italic">T</text>
<text transform="translate(165.94 279.60) scale(1.030 1.000)" font-size="10.7" font-family="&quot;Liberation Serif&quot;, serif">id.</text>
<text transform="translate(186.20 278.02) scale(0.955 1.114)" font-size="14.8" font-family="&quot;Liberation Serif&quot;, serif">(</text>
<text transform="translate(191.76 277.60) scale(0.960 1.000)" font-size="14.8" font-family="&quot;Liberation Serif&quot;, serif">4</text>
<text transform="translate(198.96 277.60) scale(1.089 1.000)" font-size="14.8" font-family="&quot;Liberation Serif&quot;, serif" font-style="italic">π</text>
<text transform="translate(207.67 277.60) scale(1.056 1.000)" font-size="14.8" font-family="&quot;Liberation Serif&quot;, serif" font-style="italic">η</text>
<text transform="translate(224.05 277.60) scale(1.020 1.000)" font-size="14.8" font-family="&quot;Liberation Serif&quot;, serif" font-style="italic">s</text>
<text transform="translate(230.21 278.02) scale(0.987 1.114)" font-size="14.8" font-family="&quot;Liberation Serif&quot;, serif">)</text>
<text transform="translate(164.41 172.50) scale(1.083 1.000)" font-size="13.8" font-family="&quot;Liberation Serif&quot;, serif" font-style="italic">λ</text>
<text transform="translate(173.69 174.02) scale(1.475 1.156)" font-size="13.8" font-family="&quot;Liberation Serif&quot;, serif">=</text>
<text transform="translate(188.44 172.50) scale(0.925 1.000)" font-size="13.8" font-family="&quot;Liberation Serif&quot;, serif">10</text>
<text transform="translate(206.23 172.88) scale(0.914 1.051)" font-size="13.8" font-family="&quot;Liberation Serif&quot;, serif">(</text>
<text transform="translate(210.06 172.50) scale(1.078 1.000)" font-size="13.8" font-family="&quot;Liberation Serif&quot;, serif" font-style="italic">η</text>
<text transform="translate(225.04 172.50) scale(1.053 1.000)" font-size="13.8" font-family="&quot;Liberation Serif&quot;, serif" font-style="italic">s</text>
<text transform="translate(233.68 174.14) scale(1.389 1.268)" font-size="13.8" font-family="&quot;Liberation Serif&quot;, serif">≈</text>
<text transform="translate(247.93 172.50) scale(0.936 1.000)" font-size="13.8" font-family="&quot;Liberation Serif&quot;, serif">0.62</text>
<text transform="translate(270.54 172.88) scale(0.914 1.051)" font-size="13.8" font-family="&quot;Liberation Serif&quot;, serif">)</text>
<text transform="translate(164.41 187.40) scale(1.083 1.000)" font-size="13.8" font-family="&quot;Liberation Serif&quot;, serif" font-style="italic">λ</text>
<text transform="translate(173.69 188.92) scale(1.475 1.156)" font-size="13.8" font-family="&quot;Liberation Serif&quot;, serif">=</text>
<text transform="translate(188.44 187.40) scale(0.925 1.000)" font-size="13.8" font-family="&quot;Liberation Serif&quot;, serif">15</text>
<text transform="translate(206.23 187.78) scale(0.914 1.051)" font-size="13.8" font-family="&quot;Liberation Serif&quot;, serif">(</text>
<text transform="translate(210.06 187.40) scale(1.078 1.000)" font-size="13.8" font-family="&quot;Liberation Serif&quot;, serif" font-style="italic">η</text>
<text transform="translate(225.04 187.40) scale(1.053 1.000)" font-size="13.8" font-family="&quot;Liberation Serif&quot;, serif" font-style="italic">s</text>
<text transform="translate(233.68 189.04) scale(1.389 1.268)" font-size="13.8" font-family="&quot;Liberation Serif&quot;, serif">≈</text>
<text transform="translate(247.94 187.40) scale(0.916 1.000)" font-size="13.8" font-family="&quot;Liberation Serif&quot;, serif">0.34</text>
<text transform="translate(270.54 187.78) scale(0.914 1.051)" font-size="13.8" font-family="&quot;Liberation Serif&quot;, serif">)</text>
<text transform="translate(164.41 202.00) scale(1.083 1.000)" font-size="13.8" font-family="&quot;Liberation Serif&quot;, serif" font-style="italic">λ</text>
<text transform="translate(173.69 203.52) scale(1.475 1.156)" font-size="13.8" font-family="&quot;Liberation Serif&quot;, serif">=</text>
<text transform="translate(189.05 202.00) scale(0.879 1.000)" font-size="13.8" font-family="&quot;Liberation Serif&quot;, serif">20</text>
<text transform="translate(206.23 202.38) scale(0.914 1.051)" font-size="13.8" font-family="&quot;Liberation Serif&quot;, serif">(</text>
<text transform="translate(210.06 202.00) scale(1.078 1.000)" font-size="13.8" font-family="&quot;Liberation Serif&quot;, serif" font-style="italic">η</text>
<text transform="translate(225.04 202.00) scale(1.053 1.000)" font-size="13.8" font-family="&quot;Liberation Serif&quot;, serif" font-style="italic">s</text>
<text transform="translate(233.68 203.64) scale(1.389 1.268)" font-size="13.8" font-family="&quot;Liberation Serif&quot;, serif">≈</text>
<text transform="translate(247.93 202.00) scale(0.936 1.000)" font-size="13.8" font-family="&quot;Liberation Serif&quot;, serif">0.22</text>
<text transform="translate(270.54 202.38) scale(0.914 1.051)" font-size="13.8" font-family="&quot;Liberation Serif&quot;, serif">)</text>
<text transform="translate(164.41 216.80) scale(1.083 1.000)" font-size="13.8" font-family="&quot;Liberation Serif&quot;, serif" font-style="italic">λ</text>
<text transform="translate(173.69 218.32) scale(1.475 1.156)" font-size="13.8" font-family="&quot;Liberation Serif&quot;, serif">=</text>
<text transform="translate(189.05 216.80) scale(0.879 1.000)" font-size="13.8" font-family="&quot;Liberation Serif&quot;, serif">25</text>
<text transform="translate(206.23 217.18) scale(0.914 1.051)" font-size="13.8" font-family="&quot;Liberation Serif&quot;, serif">(</text>
<text transform="translate(210.06 216.80) scale(1.078 1.000)" font-size="13.8" font-family="&quot;Liberation Serif&quot;, serif" font-style="italic">η</text>
<text transform="translate(225.04 216.80) scale(1.053 1.000)" font-size="13.8" font-family="&quot;Liberation Serif&quot;, serif" font-style="italic">s</text>
<text transform="translate(233.68 218.44) scale(1.389 1.268)" font-size="13.8" font-family="&quot;Liberation Serif&quot;, serif">≈</text>
<text transform="translate(247.94 216.80) scale(0.920 1.000)" font-size="13.8" font-family="&quot;Liberation Serif&quot;, serif">0.16</text>
<text transform="translate(270.54 217.18) scale(0.914 1.051)" font-size="13.8" font-family="&quot;Liberation Serif&quot;, serif">)</text>
<text transform="translate(176.11 230.30) scale(0.987 1.000)" font-size="14.6" font-family="&quot;Liberation Sans&quot;, sans-serif" fill="#262626">scaling curve fit</text>
<path d="M102.90 79.80 L109.10 64.90" stroke="#383838" stroke-width="0.75"/>
<path d="M178.00 282.20 L184.30 265.90" stroke="#383838" stroke-width="0.75"/>
<path d="M216.20 282.20 L222.60 265.90" stroke="#383838" stroke-width="0.75"/>
<path d="M218.30 175.90 L224.00 162.90" stroke="#383838" stroke-width="0.75"/>
<path d="M218.30 190.80 L224.00 177.80" stroke="#383838" stroke-width="0.75"/>
<path d="M218.30 205.40 L224.00 192.40" stroke="#383838" stroke-width="0.75"/>
<path d="M218.30 220.20 L224.00 207.20" stroke="#383838" stroke-width="0.75"/>
<g transform="translate(13.9 151.3) rotate(-90)">
<text transform="translate(1.73 0.00) scale(1.071 1.000)" font-size="14.8" font-family="&quot;Liberation Serif&quot;, serif" font-style="italic">T</text>
<text transform="translate(12.60 -5.20) scale(1.254 1.000)" font-size="10.7" font-family="&quot;Liberation Serif&quot;, serif" font-style="italic">μν</text>
<text transform="translate(33.13 0.00) scale(1.071 1.000)" font-size="14.8" font-family="&quot;Liberation Serif&quot;, serif" font-style="italic">T</text>
<text transform="translate(44.30 -5.20) scale(1.264 1.000)" font-size="10.7" font-family="&quot;Liberation Serif&quot;, serif" font-style="italic">μν</text>
<text transform="translate(42.12 4.60) scale(1.130 1.000)" font-size="10.7" font-family="&quot;Liberation Serif&quot;, serif">id.</text>
<path d="M5.8 -12.3 H11.2 M37.1 -12.4 H42.7" stroke="#383838" stroke-width="0.7"/>
<path d="M28.0 2.7 L32.9 -11.2" stroke="#383838" stroke-width="0.75"/>
</g>
</g>
<g fill="none">
<path d="M283.9 168.7 H306" stroke="#ff0000" stroke-width="2.2"/>
<path d="M283.9 182.9 H306" stroke="#006400" stroke-width="2.2" stroke-dasharray="7.5 10.6"/>
<path d="M283.9 197.6 H306" stroke="#0000ff" stroke-width="2.2" stroke-dasharray="4 5"/>
<path d="M283.9 211.9 H306" stroke="#ffa500" stroke-width="2.2" stroke-dasharray="15 6.6"/>
<path d="M283.9 226.3 H306" stroke="#000" stroke-width="2.3" stroke-dasharray="4.0 5.1"/>
</g>
</svg>
</body></html>
